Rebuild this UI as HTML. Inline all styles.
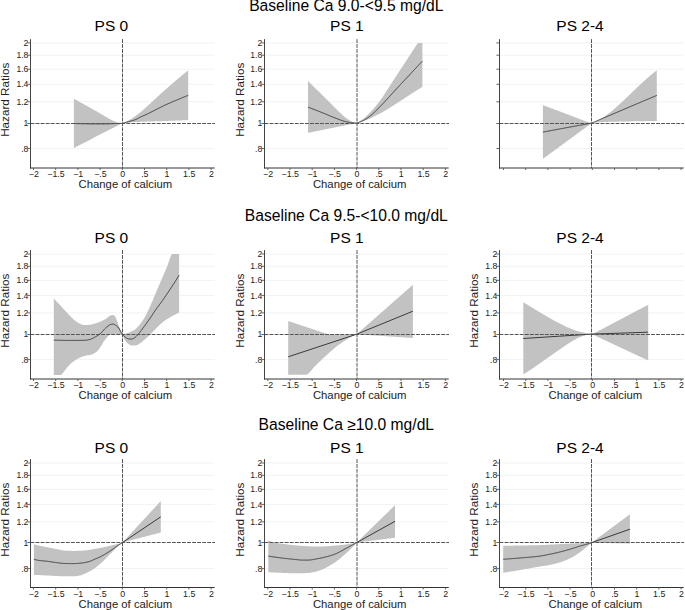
<!DOCTYPE html><html><head><meta charset="utf-8"><style>html,body{margin:0;padding:0;background:#fff;}svg{display:block;}text{font-family:"Liberation Sans",sans-serif;}</style></head><body>
<svg width="685" height="610" viewBox="0 0 685 610">
<rect width="685" height="610" fill="#fff"/>
<text x="346.3" y="10.7" font-size="15.65" text-anchor="middle" fill="#000">Baseline Ca 9.0-&lt;9.5 mg/dL</text>
<path d="M31,42.9H214.6M31,55.2H214.6M31,69.2H214.6M31,84.3H214.6M31,101.8H214.6M31,148.5H214.6" stroke="#eef3f4" stroke-width="1" fill="none"/>
<path d="M73.9,98.8 L74.36,99.05 L74.83,99.31 L75.29,99.56 L75.75,99.82 L76.22,100.07 L76.68,100.32 L77.15,100.58 L77.61,100.83 L78.07,101.09 L78.54,101.34 L79,101.6 L79.5,101.88 L80,102.15 L80.5,102.43 L81,102.71 L81.5,102.98 L82,103.26 L82.5,103.54 L83,103.82 L83.5,104.1 L84,104.37 L84.5,104.65 L85,104.93 L85.5,105.21 L86,105.49 L86.5,105.77 L87,106.04 L87.5,106.32 L88,106.6 L88.5,106.88 L89,107.15 L89.5,107.43 L90,107.7 L90.5,107.98 L91,108.25 L91.5,108.53 L92,108.8 L92.5,109.08 L93,109.36 L93.5,109.63 L94,109.91 L94.5,110.19 L95,110.47 L95.5,110.75 L96,111.03 L96.5,111.31 L97,111.6 L97.48,111.88 L97.96,112.16 L98.44,112.44 L98.92,112.72 L99.39,113.01 L99.87,113.29 L100.35,113.58 L100.83,113.87 L101.31,114.16 L101.79,114.45 L102.27,114.74 L102.75,115.02 L103.23,115.31 L103.71,115.6 L104.18,115.88 L104.66,116.17 L105.14,116.45 L105.62,116.72 L106.1,117 L106.6,117.29 L107.1,117.57 L107.6,117.86 L108.1,118.14 L108.6,118.43 L109.1,118.7 L109.6,118.98 L110.1,119.24 L110.6,119.5 L111.1,119.75 L111.6,120.01 L112.1,120.26 L112.6,120.51 L113.1,120.75 L113.6,120.99 L114.1,121.21 L114.6,121.41 L115.1,121.6 L115.6,121.78 L116.1,121.95 L116.6,122.11 L117.1,122.27 L117.6,122.42 L118.1,122.56 L118.6,122.68 L119.1,122.8 L119.6,122.9 L120.07,122.98 L120.53,123.06 L121,123.13 L121.47,123.2 L121.93,123.25 L122.4,123.3 L122.87,123.14 L123.34,122.97 L123.81,122.79 L124.28,122.6 L124.75,122.4 L125.22,122.2 L125.68,121.99 L126.15,121.77 L126.62,121.55 L127.09,121.32 L127.56,121.09 L128.03,120.85 L128.5,120.6 L129,120.33 L129.5,120.04 L130,119.74 L130.5,119.42 L131,119.1 L131.5,118.76 L132,118.42 L132.5,118.08 L133,117.72 L133.5,117.37 L134,117.01 L134.5,116.66 L135,116.3 L135.48,115.96 L135.97,115.61 L136.45,115.26 L136.93,114.9 L137.42,114.54 L137.9,114.18 L138.38,113.81 L138.87,113.44 L139.35,113.06 L139.83,112.68 L140.32,112.29 L140.8,111.9 L141.29,111.49 L141.78,111.08 L142.28,110.66 L142.77,110.23 L143.26,109.8 L143.75,109.36 L144.24,108.92 L144.73,108.48 L145.22,108.03 L145.72,107.59 L146.21,107.14 L146.7,106.7 L147.18,106.27 L147.67,105.83 L148.15,105.39 L148.63,104.95 L149.12,104.51 L149.6,104.07 L150.08,103.63 L150.57,103.18 L151.05,102.74 L151.53,102.29 L152.02,101.85 L152.5,101.4 L152.99,100.94 L153.48,100.49 L153.97,100.02 L154.47,99.56 L154.96,99.1 L155.45,98.63 L155.94,98.17 L156.43,97.71 L156.93,97.25 L157.42,96.8 L157.91,96.35 L158.4,95.9 L158.9,95.45 L159.39,95.01 L159.89,94.56 L160.39,94.11 L160.88,93.67 L161.38,93.22 L161.88,92.78 L162.37,92.34 L162.87,91.89 L163.37,91.45 L163.86,91.01 L164.36,90.57 L164.86,90.13 L165.35,89.69 L165.85,89.25 L166.35,88.81 L166.84,88.37 L167.34,87.93 L167.84,87.5 L168.33,87.06 L168.83,86.62 L169.33,86.19 L169.82,85.76 L170.32,85.32 L170.82,84.89 L171.31,84.46 L171.81,84.03 L172.31,83.6 L172.8,83.17 L173.3,82.74 L173.8,82.32 L174.29,81.89 L174.79,81.47 L175.29,81.04 L175.78,80.62 L176.28,80.2 L176.78,79.78 L177.27,79.36 L177.77,78.94 L178.27,78.52 L178.76,78.1 L179.26,77.69 L179.76,77.27 L180.25,76.86 L180.75,76.44 L181.25,76.03 L181.74,75.62 L182.24,75.21 L182.74,74.81 L183.23,74.4 L183.73,73.99 L184.23,73.59 L184.72,73.19 L185.22,72.78 L185.72,72.38 L186.21,71.98 L186.71,71.59 L187.21,71.19 L187.7,70.79 L188.2,70.4 L188.2,120.1 L187.71,120.12 L187.21,120.14 L186.72,120.16 L186.22,120.18 L185.73,120.2 L185.23,120.22 L184.74,120.24 L184.24,120.26 L183.75,120.28 L183.25,120.3 L182.76,120.32 L182.26,120.34 L181.77,120.36 L181.27,120.38 L180.78,120.4 L180.28,120.42 L179.79,120.44 L179.29,120.46 L178.8,120.48 L178.31,120.5 L177.81,120.52 L177.32,120.54 L176.82,120.55 L176.33,120.57 L175.83,120.59 L175.34,120.61 L174.84,120.63 L174.35,120.65 L173.85,120.67 L173.36,120.69 L172.86,120.71 L172.37,120.73 L171.87,120.75 L171.38,120.77 L170.88,120.79 L170.39,120.81 L169.89,120.82 L169.4,120.84 L168.91,120.86 L168.41,120.88 L167.92,120.9 L167.42,120.92 L166.93,120.94 L166.43,120.96 L165.94,120.98 L165.44,120.99 L164.95,121.01 L164.45,121.03 L163.96,121.05 L163.46,121.07 L162.97,121.09 L162.47,121.11 L161.98,121.13 L161.48,121.14 L160.99,121.16 L160.49,121.18 L160,121.2 L159.5,121.22 L159,121.24 L158.5,121.25 L158,121.27 L157.5,121.29 L157,121.31 L156.5,121.32 L156,121.34 L155.5,121.35 L155,121.37 L154.5,121.38 L154,121.4 L153.5,121.42 L153,121.43 L152.5,121.45 L152,121.46 L151.5,121.48 L151,121.49 L150.5,121.5 L150,121.52 L149.5,121.53 L149,121.55 L148.5,121.56 L148,121.58 L147.5,121.6 L147,121.61 L146.5,121.63 L146,121.64 L145.5,121.66 L145,121.68 L144.5,121.69 L144,121.71 L143.5,121.73 L143,121.74 L142.5,121.76 L142,121.78 L141.5,121.8 L141,121.82 L140.5,121.84 L140,121.86 L139.5,121.88 L139,121.9 L138.5,121.93 L138,121.95 L137.5,121.97 L137,122 L136.5,122.02 L136,122.05 L135.5,122.07 L135,122.1 L134.52,122.13 L134.03,122.16 L133.55,122.19 L133.06,122.22 L132.58,122.26 L132.09,122.3 L131.61,122.34 L131.12,122.38 L130.64,122.42 L130.15,122.46 L129.67,122.51 L129.18,122.56 L128.7,122.61 L128.22,122.65 L127.73,122.7 L127.25,122.76 L126.76,122.81 L126.28,122.86 L125.79,122.91 L125.31,122.97 L124.82,123.02 L124.34,123.08 L123.85,123.13 L123.37,123.19 L122.88,123.24 L122.4,123.3 L121.9,123.55 L121.4,123.8 L120.91,124.04 L120.41,124.29 L119.91,124.54 L119.41,124.79 L118.91,125.04 L118.42,125.28 L117.92,125.53 L117.42,125.78 L116.92,126.03 L116.42,126.28 L115.93,126.53 L115.43,126.78 L114.93,127.03 L114.43,127.28 L113.93,127.53 L113.44,127.78 L112.94,128.03 L112.44,128.28 L111.94,128.53 L111.44,128.78 L110.95,129.03 L110.45,129.28 L109.95,129.53 L109.45,129.78 L108.96,130.03 L108.46,130.29 L107.96,130.54 L107.46,130.79 L106.96,131.04 L106.47,131.29 L105.97,131.54 L105.47,131.8 L104.97,132.05 L104.47,132.3 L103.98,132.56 L103.48,132.81 L102.98,133.06 L102.48,133.31 L101.98,133.57 L101.49,133.82 L100.99,134.07 L100.49,134.33 L99.99,134.58 L99.49,134.84 L99,135.09 L98.5,135.35 L98,135.6 L97.51,135.85 L97.02,136.1 L96.52,136.36 L96.03,136.61 L95.54,136.86 L95.05,137.11 L94.56,137.36 L94.07,137.62 L93.57,137.87 L93.08,138.12 L92.59,138.38 L92.1,138.63 L91.61,138.88 L91.11,139.14 L90.62,139.39 L90.13,139.64 L89.64,139.9 L89.15,140.15 L88.66,140.41 L88.16,140.66 L87.67,140.91 L87.18,141.17 L86.69,141.42 L86.2,141.68 L85.7,141.93 L85.21,142.19 L84.72,142.44 L84.23,142.7 L83.74,142.96 L83.24,143.21 L82.75,143.47 L82.26,143.72 L81.77,143.98 L81.28,144.24 L80.79,144.49 L80.29,144.75 L79.8,145.01 L79.31,145.26 L78.82,145.52 L78.33,145.78 L77.83,146.04 L77.34,146.29 L76.85,146.55 L76.36,146.81 L75.87,147.07 L75.38,147.32 L74.88,147.58 L74.39,147.84 L73.9,148.1 Z" fill="#c2c2c2" stroke="none"/>
<path d="M73.9,123.5 L74.39,123.52 L74.88,123.54 L75.38,123.55 L75.87,123.57 L76.36,123.59 L76.85,123.6 L77.35,123.62 L77.84,123.63 L78.33,123.65 L78.82,123.66 L79.32,123.67 L79.81,123.69 L80.3,123.7 L80.79,123.71 L81.29,123.72 L81.78,123.73 L82.27,123.74 L82.76,123.75 L83.26,123.76 L83.75,123.77 L84.24,123.78 L84.73,123.79 L85.23,123.8 L85.72,123.81 L86.21,123.81 L86.7,123.82 L87.2,123.83 L87.69,123.83 L88.18,123.84 L88.67,123.85 L89.17,123.85 L89.66,123.86 L90.15,123.86 L90.64,123.86 L91.14,123.87 L91.63,123.87 L92.12,123.88 L92.61,123.88 L93.11,123.88 L93.6,123.88 L94.09,123.89 L94.58,123.89 L95.08,123.89 L95.57,123.89 L96.06,123.89 L96.55,123.9 L97.05,123.9 L97.54,123.9 L98.03,123.9 L98.52,123.9 L99.02,123.9 L99.51,123.9 L100,123.9 L100.5,123.9 L101,123.9 L101.49,123.9 L101.99,123.89 L102.49,123.89 L102.99,123.89 L103.48,123.88 L103.98,123.88 L104.48,123.87 L104.98,123.86 L105.48,123.86 L105.97,123.85 L106.47,123.84 L106.97,123.83 L107.47,123.82 L107.96,123.81 L108.46,123.8 L108.96,123.79 L109.46,123.78 L109.96,123.76 L110.45,123.75 L110.95,123.74 L111.45,123.72 L111.95,123.71 L112.44,123.69 L112.94,123.68 L113.44,123.66 L113.94,123.64 L114.44,123.63 L114.93,123.61 L115.43,123.59 L115.93,123.57 L116.43,123.55 L116.92,123.53 L117.42,123.51 L117.92,123.49 L118.42,123.47 L118.92,123.45 L119.41,123.43 L119.91,123.41 L120.41,123.39 L120.91,123.37 L121.4,123.35 L121.9,123.32 L122.4,123.3 L122.87,123.17 L123.34,123.04 L123.81,122.91 L124.28,122.78 L124.75,122.64 L125.22,122.51 L125.68,122.38 L126.15,122.25 L126.62,122.12 L127.09,121.99 L127.56,121.86 L128.03,121.73 L128.5,121.6 L129,121.46 L129.5,121.33 L130,121.21 L130.5,121.08 L131,120.96 L131.5,120.83 L132,120.7 L132.5,120.57 L133,120.43 L133.5,120.29 L134,120.14 L134.5,119.97 L135,119.8 L135.48,119.61 L135.97,119.41 L136.45,119.18 L136.93,118.94 L137.42,118.69 L137.9,118.43 L138.38,118.17 L138.87,117.9 L139.35,117.64 L139.83,117.38 L140.32,117.13 L140.8,116.9 L141.29,116.67 L141.78,116.45 L142.28,116.23 L142.77,116.02 L143.26,115.81 L143.75,115.6 L144.24,115.39 L144.73,115.18 L145.22,114.97 L145.72,114.75 L146.21,114.53 L146.7,114.3 L147.18,114.07 L147.67,113.84 L148.15,113.6 L148.63,113.36 L149.12,113.12 L149.6,112.88 L150.08,112.63 L150.57,112.38 L151.05,112.14 L151.53,111.89 L152.02,111.64 L152.5,111.4 L152.99,111.15 L153.48,110.9 L153.97,110.65 L154.47,110.4 L154.96,110.15 L155.45,109.9 L155.94,109.65 L156.43,109.4 L156.93,109.15 L157.42,108.9 L157.91,108.65 L158.4,108.4 L158.88,108.16 L159.37,107.91 L159.85,107.66 L160.33,107.42 L160.82,107.17 L161.3,106.93 L161.78,106.68 L162.27,106.44 L162.75,106.2 L163.23,105.96 L163.72,105.73 L164.2,105.5 L164.68,105.27 L165.17,105.05 L165.65,104.83 L166.13,104.61 L166.62,104.39 L167.1,104.17 L167.58,103.96 L168.07,103.74 L168.55,103.53 L169.03,103.32 L169.52,103.11 L170,102.9 L170.5,102.68 L171,102.47 L171.5,102.26 L172,102.05 L172.5,101.84 L173,101.63 L173.5,101.42 L174,101.22 L174.5,101.01 L175,100.8 L175.49,100.6 L175.98,100.39 L176.47,100.19 L176.96,99.98 L177.44,99.78 L177.93,99.57 L178.42,99.37 L178.91,99.16 L179.4,98.96 L179.89,98.76 L180.38,98.55 L180.87,98.35 L181.36,98.14 L181.84,97.94 L182.33,97.74 L182.82,97.53 L183.31,97.33 L183.8,97.13 L184.29,96.92 L184.78,96.72 L185.27,96.52 L185.76,96.31 L186.24,96.11 L186.73,95.91 L187.22,95.71 L187.71,95.5 L188.2,95.3" fill="none" stroke="#3a3a3a" stroke-width="1" stroke-linejoin="round"/>
<path d="M30.5,123.5H215" stroke="#555" stroke-width="1" stroke-dasharray="3.9,1.15" fill="none"/>
<path d="M122.5,39.15V168" stroke="#555" stroke-width="1" stroke-dasharray="3.9,1.0" fill="none"/>
<path d="M30.5,39.15V168.5" fill="none" stroke="#444" stroke-width="1"/>
<path d="M30,168H214.7" fill="none" stroke="#333" stroke-width="1"/>
<path d="M27.4,42.9H30M27.4,55.2H30M27.4,69.2H30M27.4,84.3H30M27.4,101.8H30M27.4,123.5H30M27.4,148.5H30" stroke="#666" stroke-width="1" fill="none"/>
<path d="M33.5,168V170M55.7,168V170M77.9,168V170M100.1,168V170M122.3,168V170M144.5,168V170M166.7,168V170M188.9,168V170M211.1,168V170" stroke="#555" stroke-width="0.9" fill="none"/>
<text x="111.4" y="31.2" font-size="15.5" text-anchor="middle" fill="#000">PS 0</text>
<text x="28.4" y="46" font-size="8.6" text-anchor="end" fill="#222">2</text>
<text x="28.4" y="58.3" font-size="8.6" text-anchor="end" fill="#222">1.8</text>
<text x="28.4" y="72.3" font-size="8.6" text-anchor="end" fill="#222">1.6</text>
<text x="28.4" y="87.4" font-size="8.6" text-anchor="end" fill="#222">1.4</text>
<text x="28.4" y="104.9" font-size="8.6" text-anchor="end" fill="#222">1.2</text>
<text x="28.4" y="126" font-size="8.6" text-anchor="end" fill="#222">1</text>
<text x="28.4" y="151.6" font-size="8.6" text-anchor="end" fill="#222">.8</text>
<text x="33.8" y="177.1" font-size="8.8" text-anchor="middle" fill="#222">&#8722;2</text>
<text x="56" y="177.1" font-size="8.8" text-anchor="middle" fill="#222">&#8722;1.5</text>
<text x="78.2" y="177.1" font-size="8.8" text-anchor="middle" fill="#222">&#8722;1</text>
<text x="100.4" y="177.1" font-size="8.8" text-anchor="middle" fill="#222">&#8722;.5</text>
<text x="122.6" y="177.1" font-size="8.8" text-anchor="middle" fill="#222">0</text>
<text x="144.8" y="177.1" font-size="8.8" text-anchor="middle" fill="#222">.5</text>
<text x="167" y="177.1" font-size="8.8" text-anchor="middle" fill="#222">1</text>
<text x="189.2" y="177.1" font-size="8.8" text-anchor="middle" fill="#222">1.5</text>
<text x="211.4" y="177.1" font-size="8.8" text-anchor="middle" fill="#222">2</text>
<text x="125.4" y="187.5" font-size="11.3" text-anchor="middle" fill="#222">Change of calcium</text>
<text transform="translate(8.9,99.8) rotate(-90)" font-size="11.7" text-anchor="middle" fill="#222">Hazard Ratios</text>
<path d="M265,42.9H448.6M265,55.2H448.6M265,69.2H448.6M265,84.3H448.6M265,101.8H448.6M265,148.5H448.6" stroke="#eef3f4" stroke-width="1" fill="none"/>
<path d="M308,81.1 L308.5,81.58 L309,82.07 L309.5,82.55 L310,83.04 L310.5,83.53 L311,84.01 L311.5,84.5 L312,84.99 L312.5,85.48 L313,85.96 L313.5,86.45 L314,86.94 L314.5,87.43 L315,87.92 L315.5,88.41 L316,88.9 L316.5,89.39 L317,89.88 L317.5,90.37 L318,90.86 L318.5,91.36 L319,91.85 L319.5,92.34 L320,92.83 L320.5,93.33 L321,93.82 L321.5,94.32 L322,94.81 L322.5,95.3 L323,95.8 L323.5,96.3 L324,96.8 L324.5,97.3 L325,97.8 L325.5,98.3 L326,98.81 L326.5,99.31 L327,99.82 L327.5,100.33 L328,100.84 L328.5,101.34 L329,101.85 L329.5,102.35 L330,102.86 L330.5,103.36 L331,103.86 L331.5,104.36 L332,104.86 L332.5,105.35 L333,105.85 L333.5,106.33 L334,106.82 L334.5,107.3 L335,107.78 L335.49,108.26 L335.99,108.74 L336.48,109.23 L336.98,109.72 L337.47,110.21 L337.97,110.7 L338.47,111.19 L338.96,111.68 L339.46,112.16 L339.95,112.64 L340.45,113.11 L340.94,113.58 L341.44,114.05 L341.93,114.51 L342.43,114.95 L342.93,115.39 L343.42,115.82 L343.92,116.24 L344.41,116.65 L344.91,117.05 L345.4,117.43 L345.9,117.8 L346.37,118.14 L346.84,118.48 L347.31,118.82 L347.78,119.15 L348.25,119.47 L348.72,119.79 L349.18,120.09 L349.65,120.38 L350.12,120.66 L350.59,120.92 L351.06,121.17 L351.53,121.39 L352,121.6 L352.47,121.79 L352.94,121.98 L353.41,122.16 L353.88,122.33 L354.35,122.48 L354.82,122.63 L355.29,122.77 L355.76,122.89 L356.23,123 L356.7,123.1 L357.14,122.81 L357.59,122.53 L358.03,122.24 L358.47,121.96 L358.91,121.67 L359.36,121.39 L359.8,121.1 L360.29,120.79 L360.77,120.49 L361.26,120.19 L361.74,119.89 L362.23,119.58 L362.71,119.25 L363.2,118.9 L363.68,118.53 L364.16,118.14 L364.65,117.74 L365.13,117.33 L365.61,116.9 L366.09,116.46 L366.58,116.02 L367.06,115.55 L367.54,115.09 L368.02,114.61 L368.51,114.12 L368.99,113.63 L369.47,113.13 L369.95,112.63 L370.44,112.12 L370.92,111.61 L371.4,111.1 L371.88,110.58 L372.36,110.06 L372.85,109.52 L373.33,108.98 L373.81,108.43 L374.29,107.87 L374.78,107.3 L375.26,106.72 L375.74,106.14 L376.22,105.55 L376.71,104.95 L377.19,104.34 L377.67,103.73 L378.15,103.11 L378.64,102.48 L379.12,101.84 L379.6,101.2 L380.08,100.55 L380.56,99.89 L381.05,99.22 L381.53,98.54 L382.01,97.85 L382.49,97.15 L382.98,96.44 L383.46,95.73 L383.94,95 L384.42,94.27 L384.91,93.53 L385.39,92.77 L385.87,92.02 L386.35,91.25 L386.84,90.47 L387.32,89.69 L387.8,88.9 L417.8,42.9 L422.4,42.9 L422.4,86.9 L421.9,87.2 L421.4,87.49 L420.91,87.79 L420.41,88.09 L419.91,88.4 L419.41,88.7 L418.92,89.01 L418.42,89.31 L417.92,89.62 L417.42,89.93 L416.92,90.24 L416.43,90.55 L415.93,90.87 L415.43,91.18 L414.93,91.5 L414.44,91.81 L413.94,92.13 L413.44,92.45 L412.94,92.77 L412.45,93.09 L411.95,93.41 L411.45,93.73 L410.95,94.05 L410.45,94.37 L409.96,94.7 L409.46,95.02 L408.96,95.35 L408.46,95.67 L407.97,96 L407.47,96.32 L406.97,96.65 L406.47,96.98 L405.97,97.3 L405.48,97.63 L404.98,97.96 L404.48,98.28 L403.98,98.61 L403.49,98.94 L402.99,99.27 L402.49,99.59 L401.99,99.92 L401.5,100.25 L401,100.57 L400.5,100.9 L400,101.22 L399.5,101.55 L399.01,101.88 L398.51,102.2 L398.01,102.52 L397.51,102.85 L397.02,103.17 L396.52,103.49 L396.02,103.82 L395.52,104.14 L395.02,104.46 L394.53,104.78 L394.03,105.09 L393.53,105.41 L393.03,105.73 L392.54,106.04 L392.04,106.36 L391.54,106.67 L391.04,106.98 L390.55,107.3 L390.05,107.61 L389.55,107.91 L389.05,108.22 L388.55,108.53 L388.06,108.83 L387.56,109.13 L387.06,109.44 L386.56,109.74 L386.07,110.03 L385.57,110.33 L385.07,110.63 L384.57,110.92 L384.07,111.21 L383.58,111.5 L383.08,111.79 L382.58,112.07 L382.08,112.36 L381.59,112.64 L381.09,112.92 L380.59,113.2 L380.09,113.47 L379.6,113.74 L379.1,114.01 L378.6,114.28 L378.1,114.55 L377.6,114.81 L377.11,115.07 L376.61,115.33 L376.11,115.59 L375.61,115.84 L375.12,116.09 L374.62,116.34 L374.12,116.59 L373.62,116.83 L373.12,117.07 L372.63,117.31 L372.13,117.54 L371.63,117.77 L371.13,118 L370.64,118.23 L370.14,118.45 L369.64,118.67 L369.14,118.88 L368.65,119.09 L368.15,119.3 L367.65,119.51 L367.15,119.71 L366.65,119.91 L366.16,120.11 L365.66,120.3 L365.16,120.49 L364.66,120.67 L364.17,120.85 L363.67,121.03 L363.17,121.2 L362.67,121.37 L362.18,121.54 L361.68,121.7 L361.18,121.86 L360.68,122.01 L360.18,122.17 L359.69,122.31 L359.19,122.45 L358.69,122.59 L358.19,122.73 L357.7,122.85 L357.2,122.98 L356.7,123.1 L356.21,123.2 L355.71,123.29 L355.22,123.39 L354.72,123.49 L354.23,123.58 L353.74,123.68 L353.24,123.78 L352.75,123.87 L352.25,123.97 L351.76,124.07 L351.27,124.17 L350.77,124.26 L350.28,124.36 L349.78,124.46 L349.29,124.55 L348.8,124.65 L348.3,124.75 L347.81,124.85 L347.31,124.95 L346.82,125.04 L346.33,125.14 L345.83,125.24 L345.34,125.34 L344.84,125.43 L344.35,125.53 L343.86,125.63 L343.36,125.73 L342.87,125.83 L342.37,125.92 L341.88,126.02 L341.39,126.12 L340.89,126.22 L340.4,126.32 L339.9,126.42 L339.41,126.52 L338.92,126.61 L338.42,126.71 L337.93,126.81 L337.43,126.91 L336.94,127.01 L336.45,127.11 L335.95,127.21 L335.46,127.31 L334.96,127.4 L334.47,127.5 L333.98,127.6 L333.48,127.7 L332.99,127.8 L332.49,127.9 L332,128 L331.5,128.1 L331,128.2 L330.5,128.3 L330,128.4 L329.5,128.5 L329,128.6 L328.5,128.71 L328,128.81 L327.5,128.91 L327,129.01 L326.5,129.11 L326,129.21 L325.5,129.31 L325,129.41 L324.5,129.52 L324,129.62 L323.5,129.72 L323,129.82 L322.5,129.92 L322,130.02 L321.5,130.13 L321,130.23 L320.5,130.33 L320,130.43 L319.5,130.53 L319,130.64 L318.5,130.74 L318,130.84 L317.5,130.94 L317,131.05 L316.5,131.15 L316,131.25 L315.5,131.35 L315,131.46 L314.5,131.56 L314,131.66 L313.5,131.76 L313,131.87 L312.5,131.97 L312,132.07 L311.5,132.18 L311,132.28 L310.5,132.38 L310,132.49 L309.5,132.59 L309,132.69 L308.5,132.8 L308,132.9 Z" fill="#c2c2c2" stroke="none"/>
<path d="M308,107.1 L308.5,107.29 L309,107.49 L309.5,107.68 L310,107.87 L310.5,108.07 L311,108.26 L311.5,108.45 L312,108.65 L312.5,108.84 L313,109.04 L313.5,109.23 L314,109.43 L314.5,109.63 L315,109.82 L315.5,110.02 L316,110.22 L316.5,110.41 L317,110.61 L317.5,110.81 L318,111.01 L318.5,111.2 L319,111.4 L319.5,111.6 L320,111.8 L320.5,112 L321,112.2 L321.5,112.4 L322,112.6 L322.5,112.8 L323,113 L323.5,113.2 L324,113.4 L324.5,113.61 L325,113.82 L325.5,114.02 L326,114.23 L326.5,114.44 L327,114.65 L327.5,114.86 L328,115.07 L328.5,115.28 L329,115.49 L329.5,115.7 L330,115.9 L330.5,116.11 L331,116.32 L331.5,116.52 L332,116.72 L332.5,116.92 L333,117.12 L333.5,117.32 L334,117.51 L334.5,117.7 L335,117.89 L335.49,118.08 L335.99,118.27 L336.48,118.47 L336.98,118.66 L337.47,118.86 L337.97,119.05 L338.47,119.24 L338.96,119.44 L339.46,119.63 L339.95,119.82 L340.45,120 L340.94,120.18 L341.44,120.36 L341.93,120.54 L342.43,120.7 L342.93,120.87 L343.42,121.02 L343.92,121.17 L344.41,121.32 L344.91,121.45 L345.4,121.58 L345.9,121.7 L346.37,121.81 L346.84,121.91 L347.31,122.02 L347.78,122.12 L348.25,122.22 L348.72,122.31 L349.18,122.4 L349.65,122.48 L350.12,122.56 L350.59,122.63 L351.06,122.7 L351.53,122.75 L352,122.8 L352.47,122.84 L352.94,122.88 L353.41,122.92 L353.88,122.96 L354.35,123 L354.82,123.03 L355.29,123.05 L355.76,123.07 L356.23,123.09 L356.7,123.1 L357.2,122.95 L357.7,122.8 L358.2,122.63 L358.7,122.46 L359.2,122.27 L359.7,122.08 L360.2,121.87 L360.7,121.66 L361.2,121.44 L361.7,121.22 L362.2,120.98 L362.7,120.75 L363.2,120.5 L363.68,120.25 L364.16,120 L364.65,119.73 L365.13,119.45 L365.61,119.15 L366.09,118.85 L366.58,118.54 L367.06,118.22 L367.54,117.89 L368.02,117.55 L368.51,117.21 L368.99,116.85 L369.47,116.49 L369.95,116.13 L370.44,115.76 L370.92,115.38 L371.4,115 L371.88,114.61 L372.36,114.2 L372.85,113.77 L373.33,113.34 L373.81,112.88 L374.29,112.42 L374.78,111.95 L375.26,111.47 L375.74,110.98 L376.22,110.49 L376.71,109.99 L377.19,109.49 L377.67,108.99 L378.15,108.49 L378.64,107.99 L379.12,107.49 L379.6,107 L380.1,106.49 L380.6,105.98 L381.09,105.47 L381.59,104.96 L382.09,104.44 L382.59,103.92 L383.08,103.4 L383.58,102.88 L384.08,102.35 L384.58,101.82 L385.07,101.29 L385.57,100.76 L386.07,100.23 L386.57,99.7 L387.07,99.16 L387.56,98.62 L388.06,98.09 L388.56,97.55 L389.06,97.01 L389.55,96.47 L390.05,95.92 L390.55,95.38 L391.05,94.84 L391.54,94.29 L392.04,93.75 L392.54,93.21 L393.04,92.66 L393.53,92.12 L394.03,91.57 L394.53,91.03 L395.03,90.48 L395.53,89.94 L396.02,89.39 L396.52,88.85 L397.02,88.31 L397.52,87.77 L398.01,87.23 L398.51,86.69 L399.01,86.15 L399.51,85.61 L400,85.07 L400.5,84.53 L401,84 L401.5,83.47 L402,82.93 L402.49,82.4 L402.99,81.87 L403.49,81.33 L403.99,80.8 L404.48,80.27 L404.98,79.73 L405.48,79.2 L405.98,78.67 L406.47,78.13 L406.97,77.6 L407.47,77.07 L407.97,76.53 L408.47,76 L408.96,75.47 L409.46,74.93 L409.96,74.4 L410.46,73.87 L410.95,73.34 L411.45,72.8 L411.95,72.27 L412.45,71.74 L412.94,71.21 L413.44,70.67 L413.94,70.14 L414.44,69.61 L414.93,69.08 L415.43,68.54 L415.93,68.01 L416.43,67.48 L416.93,66.95 L417.42,66.42 L417.92,65.88 L418.42,65.35 L418.92,64.82 L419.41,64.29 L419.91,63.76 L420.41,63.23 L420.91,62.69 L421.4,62.16 L421.9,61.63 L422.4,61.1" fill="none" stroke="#3a3a3a" stroke-width="1" stroke-linejoin="round"/>
<path d="M264.5,123.5H449" stroke="#555" stroke-width="1" stroke-dasharray="3.9,1.15" fill="none"/>
<path d="M357,39.15V168" stroke="#555" stroke-width="1" stroke-dasharray="3.9,1.0" fill="none"/>
<path d="M264.5,39.15V168.5" fill="none" stroke="#444" stroke-width="1"/>
<path d="M264,168H448.7" fill="none" stroke="#333" stroke-width="1"/>
<path d="M261.4,42.9H264M261.4,55.2H264M261.4,69.2H264M261.4,84.3H264M261.4,101.8H264M261.4,123.5H264M261.4,148.5H264" stroke="#666" stroke-width="1" fill="none"/>
<path d="M267.8,168V170M290,168V170M312.2,168V170M334.4,168V170M356.6,168V170M378.8,168V170M401,168V170M423.2,168V170M445.4,168V170" stroke="#555" stroke-width="0.9" fill="none"/>
<text x="346.9" y="31.2" font-size="15.5" text-anchor="middle" fill="#000">PS 1</text>
<text x="262.2" y="46" font-size="8.6" text-anchor="end" fill="#222">2</text>
<text x="262.2" y="58.3" font-size="8.6" text-anchor="end" fill="#222">1.8</text>
<text x="262.2" y="72.3" font-size="8.6" text-anchor="end" fill="#222">1.6</text>
<text x="262.2" y="87.4" font-size="8.6" text-anchor="end" fill="#222">1.4</text>
<text x="262.2" y="104.9" font-size="8.6" text-anchor="end" fill="#222">1.2</text>
<text x="262.2" y="126" font-size="8.6" text-anchor="end" fill="#222">1</text>
<text x="262.2" y="151.6" font-size="8.6" text-anchor="end" fill="#222">.8</text>
<text x="268.1" y="177.1" font-size="8.8" text-anchor="middle" fill="#222">&#8722;2</text>
<text x="290.3" y="177.1" font-size="8.8" text-anchor="middle" fill="#222">&#8722;1.5</text>
<text x="312.5" y="177.1" font-size="8.8" text-anchor="middle" fill="#222">&#8722;1</text>
<text x="334.7" y="177.1" font-size="8.8" text-anchor="middle" fill="#222">&#8722;.5</text>
<text x="356.9" y="177.1" font-size="8.8" text-anchor="middle" fill="#222">0</text>
<text x="379.1" y="177.1" font-size="8.8" text-anchor="middle" fill="#222">.5</text>
<text x="401.3" y="177.1" font-size="8.8" text-anchor="middle" fill="#222">1</text>
<text x="423.5" y="177.1" font-size="8.8" text-anchor="middle" fill="#222">1.5</text>
<text x="445.7" y="177.1" font-size="8.8" text-anchor="middle" fill="#222">2</text>
<text x="359.7" y="187.5" font-size="11.3" text-anchor="middle" fill="#222">Change of calcium</text>
<text transform="translate(243.5,99.8) rotate(-90)" font-size="11.7" text-anchor="middle" fill="#222">Hazard Ratios</text>
<path d="M500,42.9H683.6M500,55.2H683.6M500,69.2H683.6M500,84.3H683.6M500,101.8H683.6M500,148.5H683.6" stroke="#eef3f4" stroke-width="1" fill="none"/>
<path d="M542.9,105.1 L543.39,105.29 L543.89,105.47 L544.38,105.66 L544.88,105.84 L545.37,106.03 L545.86,106.21 L546.36,106.4 L546.85,106.58 L547.34,106.77 L547.84,106.95 L548.33,107.14 L548.83,107.32 L549.32,107.51 L549.81,107.69 L550.31,107.88 L550.8,108.07 L551.3,108.25 L551.79,108.44 L552.28,108.62 L552.78,108.81 L553.27,108.99 L553.76,109.18 L554.26,109.37 L554.75,109.55 L555.25,109.74 L555.74,109.92 L556.23,110.11 L556.73,110.3 L557.22,110.48 L557.72,110.67 L558.21,110.85 L558.7,111.04 L559.2,111.23 L559.69,111.41 L560.18,111.6 L560.68,111.79 L561.17,111.97 L561.67,112.16 L562.16,112.34 L562.65,112.53 L563.15,112.72 L563.64,112.9 L564.14,113.09 L564.63,113.28 L565.12,113.46 L565.62,113.65 L566.11,113.84 L566.6,114.02 L567.1,114.21 L567.59,114.4 L568.09,114.58 L568.58,114.77 L569.07,114.96 L569.57,115.14 L570.06,115.33 L570.56,115.52 L571.05,115.7 L571.54,115.89 L572.04,116.08 L572.53,116.27 L573.02,116.45 L573.52,116.64 L574.01,116.83 L574.51,117.01 L575,117.2 L575.5,117.39 L576,117.58 L576.5,117.78 L577,117.97 L577.5,118.17 L578,118.36 L578.5,118.56 L579,118.76 L579.5,118.95 L580,119.15 L580.5,119.34 L581,119.53 L581.5,119.73 L582,119.92 L582.5,120.1 L583,120.29 L583.5,120.47 L584,120.65 L584.5,120.83 L585,121 L585.48,121.16 L585.96,121.32 L586.44,121.48 L586.91,121.64 L587.39,121.79 L587.87,121.94 L588.35,122.1 L588.83,122.24 L589.31,122.39 L589.79,122.54 L590.26,122.68 L590.74,122.82 L591.22,122.96 L591.7,123.1 L592.19,122.92 L592.68,122.74 L593.16,122.55 L593.65,122.35 L594.14,122.15 L594.63,121.94 L595.12,121.73 L595.61,121.51 L596.09,121.28 L596.58,121.05 L597.07,120.81 L597.56,120.57 L598.05,120.33 L598.54,120.08 L599.02,119.82 L599.51,119.56 L600,119.3 L600.49,119.03 L600.99,118.74 L601.48,118.45 L601.98,118.15 L602.47,117.85 L602.96,117.53 L603.46,117.21 L603.95,116.88 L604.45,116.54 L604.94,116.2 L605.44,115.86 L605.93,115.51 L606.42,115.15 L606.92,114.79 L607.41,114.43 L607.91,114.07 L608.4,113.7 L608.88,113.34 L609.37,112.97 L609.85,112.59 L610.33,112.21 L610.82,111.82 L611.3,111.43 L611.78,111.03 L612.27,110.63 L612.75,110.22 L613.23,109.81 L613.72,109.39 L614.2,108.97 L614.68,108.55 L615.17,108.13 L615.65,107.7 L616.13,107.27 L616.62,106.84 L617.1,106.41 L617.58,105.97 L618.07,105.54 L618.55,105.1 L619.03,104.67 L619.52,104.23 L620,103.8 L620.49,103.36 L620.98,102.92 L621.46,102.47 L621.95,102.02 L622.44,101.56 L622.92,101.11 L623.41,100.65 L623.9,100.19 L624.39,99.72 L624.88,99.26 L625.36,98.79 L625.85,98.32 L626.34,97.85 L626.83,97.38 L627.31,96.91 L627.8,96.44 L628.29,95.97 L628.78,95.5 L629.26,95.03 L629.75,94.56 L630.24,94.1 L630.73,93.63 L631.21,93.16 L631.7,92.7 L632.19,92.24 L632.68,91.77 L633.16,91.3 L633.65,90.84 L634.14,90.37 L634.62,89.9 L635.11,89.43 L635.6,88.96 L636.09,88.49 L636.58,88.02 L637.06,87.55 L637.55,87.08 L638.04,86.61 L638.52,86.14 L639.01,85.68 L639.5,85.21 L639.99,84.75 L640.48,84.29 L640.96,83.84 L641.45,83.38 L641.94,82.93 L642.42,82.48 L642.91,82.04 L643.4,81.6 L643.9,81.16 L644.39,80.71 L644.89,80.27 L645.39,79.83 L645.88,79.39 L646.38,78.95 L646.87,78.52 L647.37,78.09 L647.87,77.65 L648.36,77.22 L648.86,76.8 L649.36,76.37 L649.85,75.94 L650.35,75.52 L650.84,75.1 L651.34,74.68 L651.84,74.26 L652.33,73.85 L652.83,73.44 L653.33,73.02 L653.82,72.61 L654.32,72.21 L654.81,71.8 L655.31,71.4 L655.81,71 L656.3,70.6 L656.8,70.2 L656.8,121 L656.3,121 L655.81,121.01 L655.31,121.01 L654.81,121.02 L654.31,121.02 L653.82,121.03 L653.32,121.03 L652.82,121.03 L652.32,121.04 L651.83,121.04 L651.33,121.05 L650.83,121.06 L650.34,121.06 L649.84,121.07 L649.34,121.07 L648.84,121.08 L648.35,121.09 L647.85,121.09 L647.35,121.1 L646.85,121.1 L646.36,121.11 L645.86,121.12 L645.36,121.12 L644.86,121.13 L644.37,121.14 L643.87,121.15 L643.37,121.15 L642.88,121.16 L642.38,121.17 L641.88,121.18 L641.38,121.18 L640.89,121.19 L640.39,121.2 L639.89,121.21 L639.39,121.22 L638.9,121.23 L638.4,121.23 L637.9,121.24 L637.41,121.25 L636.91,121.26 L636.41,121.27 L635.91,121.28 L635.42,121.29 L634.92,121.3 L634.42,121.31 L633.92,121.31 L633.43,121.32 L632.93,121.33 L632.43,121.34 L631.94,121.35 L631.44,121.36 L630.94,121.37 L630.44,121.38 L629.95,121.39 L629.45,121.4 L628.95,121.41 L628.45,121.42 L627.96,121.43 L627.46,121.44 L626.96,121.45 L626.46,121.46 L625.97,121.47 L625.47,121.48 L624.97,121.49 L624.48,121.5 L623.98,121.51 L623.48,121.53 L622.98,121.54 L622.49,121.55 L621.99,121.56 L621.49,121.57 L620.99,121.58 L620.5,121.59 L620,121.6 L619.5,121.61 L619,121.62 L618.5,121.63 L618,121.64 L617.5,121.65 L617,121.66 L616.5,121.67 L616,121.69 L615.5,121.7 L615,121.71 L614.5,121.72 L614,121.73 L613.5,121.74 L613,121.75 L612.5,121.76 L612,121.78 L611.5,121.79 L611,121.8 L610.5,121.81 L610,121.83 L609.5,121.84 L609,121.85 L608.5,121.87 L608,121.88 L607.5,121.9 L607,121.91 L606.5,121.93 L606,121.95 L605.5,121.97 L605,121.98 L604.5,122 L604,122.02 L603.5,122.04 L603,122.06 L602.5,122.08 L602,122.1 L601.5,122.13 L601,122.15 L600.5,122.17 L600,122.2 L599.51,122.23 L599.02,122.26 L598.54,122.3 L598.05,122.34 L597.56,122.38 L597.07,122.43 L596.58,122.48 L596.09,122.54 L595.61,122.6 L595.12,122.65 L594.63,122.72 L594.14,122.78 L593.65,122.84 L593.16,122.91 L592.68,122.97 L592.19,123.04 L591.7,123.1 L591.21,123.46 L590.71,123.82 L590.22,124.18 L589.72,124.55 L589.23,124.91 L588.74,125.27 L588.24,125.63 L587.75,125.99 L587.25,126.35 L586.76,126.72 L586.27,127.08 L585.77,127.44 L585.28,127.8 L584.78,128.16 L584.29,128.53 L583.8,128.89 L583.3,129.25 L582.81,129.61 L582.31,129.97 L581.82,130.34 L581.33,130.7 L580.83,131.06 L580.34,131.42 L579.84,131.78 L579.35,132.14 L578.86,132.51 L578.36,132.87 L577.87,133.23 L577.37,133.59 L576.88,133.96 L576.39,134.32 L575.89,134.68 L575.4,135.04 L574.9,135.4 L574.41,135.77 L573.92,136.13 L573.42,136.49 L572.93,136.85 L572.43,137.21 L571.94,137.58 L571.45,137.94 L570.95,138.3 L570.46,138.66 L569.96,139.03 L569.47,139.39 L568.98,139.75 L568.48,140.11 L567.99,140.48 L567.49,140.84 L567,141.2 L566.51,141.56 L566.02,141.92 L565.52,142.28 L565.03,142.64 L564.54,143 L564.05,143.37 L563.56,143.73 L563.07,144.09 L562.57,144.45 L562.08,144.81 L561.59,145.17 L561.1,145.53 L560.61,145.89 L560.11,146.25 L559.62,146.61 L559.13,146.98 L558.64,147.34 L558.15,147.7 L557.66,148.06 L557.16,148.42 L556.67,148.78 L556.18,149.14 L555.69,149.5 L555.2,149.86 L554.7,150.23 L554.21,150.59 L553.72,150.95 L553.23,151.31 L552.74,151.67 L552.24,152.03 L551.75,152.39 L551.26,152.75 L550.77,153.12 L550.28,153.48 L549.79,153.84 L549.29,154.2 L548.8,154.56 L548.31,154.92 L547.82,155.28 L547.33,155.65 L546.83,156.01 L546.34,156.37 L545.85,156.73 L545.36,157.09 L544.87,157.45 L544.38,157.82 L543.88,158.18 L543.39,158.54 L542.9,158.9 Z" fill="#c2c2c2" stroke="none"/>
<path d="M542.9,132.1 L543.39,132.01 L543.88,131.91 L544.38,131.82 L544.87,131.73 L545.36,131.64 L545.85,131.54 L546.34,131.45 L546.83,131.36 L547.33,131.27 L547.82,131.17 L548.31,131.08 L548.8,130.99 L549.29,130.9 L549.79,130.8 L550.28,130.71 L550.77,130.62 L551.26,130.53 L551.75,130.43 L552.24,130.34 L552.74,130.25 L553.23,130.16 L553.72,130.07 L554.21,129.97 L554.7,129.88 L555.2,129.79 L555.69,129.7 L556.18,129.61 L556.67,129.52 L557.16,129.42 L557.66,129.33 L558.15,129.24 L558.64,129.15 L559.13,129.06 L559.62,128.97 L560.11,128.87 L560.61,128.78 L561.1,128.69 L561.59,128.6 L562.08,128.51 L562.57,128.42 L563.07,128.33 L563.56,128.24 L564.05,128.15 L564.54,128.05 L565.03,127.96 L565.52,127.87 L566.02,127.78 L566.51,127.69 L567,127.6 L567.49,127.51 L567.99,127.42 L568.48,127.33 L568.98,127.24 L569.47,127.14 L569.96,127.05 L570.46,126.96 L570.95,126.87 L571.45,126.78 L571.94,126.69 L572.43,126.6 L572.93,126.51 L573.42,126.42 L573.92,126.33 L574.41,126.24 L574.9,126.15 L575.4,126.06 L575.89,125.97 L576.39,125.88 L576.88,125.79 L577.37,125.7 L577.87,125.61 L578.36,125.52 L578.86,125.43 L579.35,125.34 L579.84,125.25 L580.34,125.16 L580.83,125.07 L581.33,124.98 L581.82,124.89 L582.31,124.8 L582.81,124.71 L583.3,124.62 L583.8,124.53 L584.29,124.44 L584.78,124.35 L585.28,124.26 L585.77,124.17 L586.27,124.08 L586.76,123.99 L587.25,123.9 L587.75,123.81 L588.24,123.72 L588.74,123.63 L589.23,123.54 L589.72,123.46 L590.22,123.37 L590.71,123.28 L591.21,123.19 L591.7,123.1 L592.2,122.89 L592.69,122.67 L593.19,122.46 L593.69,122.25 L594.18,122.03 L594.68,121.82 L595.18,121.61 L595.67,121.4 L596.17,121.18 L596.66,120.97 L597.16,120.76 L597.66,120.55 L598.15,120.33 L598.65,120.12 L599.15,119.91 L599.64,119.69 L600.14,119.48 L600.64,119.27 L601.13,119.06 L601.63,118.84 L602.13,118.63 L602.62,118.42 L603.12,118.21 L603.62,117.99 L604.11,117.78 L604.61,117.57 L605.11,117.36 L605.6,117.14 L606.1,116.93 L606.59,116.72 L607.09,116.51 L607.59,116.3 L608.08,116.08 L608.58,115.87 L609.08,115.66 L609.57,115.45 L610.07,115.23 L610.57,115.02 L611.06,114.81 L611.56,114.6 L612.06,114.39 L612.55,114.17 L613.05,113.96 L613.55,113.75 L614.04,113.54 L614.54,113.33 L615.04,113.12 L615.53,112.9 L616.03,112.69 L616.52,112.48 L617.02,112.27 L617.52,112.06 L618.01,111.85 L618.51,111.63 L619.01,111.42 L619.5,111.21 L620,111 L620.5,110.79 L620.99,110.58 L621.49,110.36 L621.99,110.15 L622.49,109.94 L622.98,109.73 L623.48,109.52 L623.98,109.31 L624.48,109.1 L624.97,108.88 L625.47,108.67 L625.97,108.46 L626.46,108.25 L626.96,108.04 L627.46,107.83 L627.96,107.61 L628.45,107.4 L628.95,107.19 L629.45,106.98 L629.95,106.77 L630.44,106.56 L630.94,106.35 L631.44,106.14 L631.94,105.92 L632.43,105.71 L632.93,105.5 L633.43,105.29 L633.92,105.08 L634.42,104.87 L634.92,104.66 L635.42,104.45 L635.91,104.24 L636.41,104.03 L636.91,103.81 L637.41,103.6 L637.9,103.39 L638.4,103.18 L638.9,102.97 L639.39,102.76 L639.89,102.55 L640.39,102.34 L640.89,102.13 L641.38,101.92 L641.88,101.71 L642.38,101.5 L642.88,101.29 L643.37,101.07 L643.87,100.86 L644.37,100.65 L644.86,100.44 L645.36,100.23 L645.86,100.02 L646.36,99.81 L646.85,99.6 L647.35,99.39 L647.85,99.18 L648.35,98.97 L648.84,98.76 L649.34,98.55 L649.84,98.34 L650.34,98.13 L650.83,97.92 L651.33,97.71 L651.83,97.5 L652.32,97.29 L652.82,97.08 L653.32,96.87 L653.82,96.66 L654.31,96.45 L654.81,96.24 L655.31,96.03 L655.81,95.82 L656.3,95.61 L656.8,95.4" fill="none" stroke="#3a3a3a" stroke-width="1" stroke-linejoin="round"/>
<path d="M499.5,123.5H684" stroke="#555" stroke-width="1" stroke-dasharray="3.9,1.15" fill="none"/>
<path d="M591.5,39.15V168" stroke="#555" stroke-width="1" stroke-dasharray="3.9,1.0" fill="none"/>
<path d="M499.5,39.15V168.5" fill="none" stroke="#444" stroke-width="1"/>
<path d="M499,168H683.7" fill="none" stroke="#333" stroke-width="1"/>
<path d="M496.4,42.9H499M496.4,55.2H499M496.4,69.2H499M496.4,84.3H499M496.4,101.8H499M496.4,123.5H499M496.4,148.5H499" stroke="#666" stroke-width="1" fill="none"/>
<path d="M503.5,168V170M525.7,168V170M547.9,168V170M570.1,168V170M592.3,168V170M614.5,168V170M636.7,168V170M658.9,168V170M681.1,168V170" stroke="#555" stroke-width="0.9" fill="none"/>
<text x="580" y="31.2" font-size="15.5" text-anchor="middle" fill="#000">PS 2-4</text>
<text x="346.3" y="220.8" font-size="15.65" text-anchor="middle" fill="#000">Baseline Ca 9.5-&lt;10.0 mg/dL</text>
<path d="M31,254H214.6M31,266.3H214.6M31,280.3H214.6M31,295.4H214.6M31,312.9H214.6M31,359.6H214.6" stroke="#eef3f4" stroke-width="1" fill="none"/>
<path d="M53.8,298.6 L54.27,299.08 L54.73,299.57 L55.2,300.05 L55.67,300.53 L56.13,301.02 L56.6,301.5 L57.06,301.97 L57.51,302.44 L57.97,302.91 L58.43,303.37 L58.89,303.84 L59.34,304.32 L59.8,304.8 L60.27,305.3 L60.74,305.81 L61.21,306.33 L61.69,306.85 L62.16,307.37 L62.63,307.88 L63.1,308.4 L63.57,308.91 L64.04,309.43 L64.51,309.94 L64.99,310.46 L65.46,310.97 L65.93,311.49 L66.4,312 L66.87,312.52 L67.34,313.04 L67.81,313.56 L68.29,314.08 L68.76,314.59 L69.23,315.1 L69.7,315.6 L70.17,316.09 L70.64,316.58 L71.11,317.07 L71.59,317.55 L72.06,318.02 L72.53,318.47 L73,318.9 L73.46,319.31 L73.91,319.7 L74.37,320.09 L74.83,320.47 L75.29,320.83 L75.74,321.17 L76.2,321.5 L76.67,321.82 L77.14,322.14 L77.61,322.44 L78.09,322.73 L78.56,323.01 L79.03,323.26 L79.5,323.5 L79.97,323.73 L80.44,323.96 L80.91,324.18 L81.39,324.39 L81.86,324.56 L82.33,324.7 L82.8,324.8 L83.27,324.87 L83.74,324.93 L84.21,324.99 L84.69,325.03 L85.16,325.07 L85.63,325.09 L86.1,325.1 L86.56,325.09 L87.01,325.06 L87.47,325.02 L87.93,324.97 L88.39,324.92 L88.84,324.86 L89.3,324.8 L89.76,324.74 L90.22,324.66 L90.68,324.58 L91.14,324.49 L91.6,324.4 L92.1,324.29 L92.6,324.18 L93.1,324.05 L93.6,323.92 L94.1,323.78 L94.6,323.64 L95.1,323.49 L95.6,323.34 L96.1,323.18 L96.6,323.02 L97.1,322.85 L97.6,322.68 L98.1,322.5 L98.57,322.33 L99.04,322.15 L99.51,321.97 L99.99,321.78 L100.46,321.58 L100.93,321.38 L101.4,321.17 L101.87,320.95 L102.34,320.73 L102.81,320.5 L103.29,320.26 L103.76,320.02 L104.23,319.76 L104.7,319.5 L105.17,319.22 L105.64,318.9 L106.11,318.56 L106.59,318.21 L107.06,317.86 L107.53,317.52 L108,317.2 L108.46,316.87 L108.91,316.51 L109.37,316.15 L109.83,315.8 L110.29,315.51 L110.74,315.3 L111.2,315.2 L111.7,315.16 L112.2,315.13 L112.7,315.11 L113.2,315.1 L113.7,315.23 L114.2,315.56 L114.7,316.04 L115.2,316.6 L115.67,317.39 L116.15,318.53 L116.62,319.83 L117.1,321.1 L117.6,322.39 L118.1,323.72 L118.6,325.07 L119.1,326.4 L119.6,327.74 L120.1,329.1 L120.6,330.4 L121.1,331.6 L121.55,332.57 L122,333.47 L122.45,334.3 L122.92,334.23 L123.38,334.15 L123.84,334.05 L124.31,333.95 L124.78,333.84 L125.24,333.72 L125.7,333.6 L126.17,333.47 L126.63,333.34 L127.1,333.2 L127.6,333.04 L128.1,332.86 L128.6,332.66 L129.1,332.45 L129.6,332.24 L130.1,332.02 L130.6,331.8 L131.05,331.61 L131.5,331.42 L131.95,331.23 L132.4,331.03 L132.85,330.83 L133.3,330.6 L133.75,330.36 L134.2,330.1 L134.7,329.77 L135.2,329.38 L135.7,328.96 L136.2,328.51 L136.7,328.02 L137.2,327.52 L137.7,327 L138.2,326.45 L138.7,325.85 L139.2,325.22 L139.7,324.56 L140.2,323.88 L140.7,323.19 L141.2,322.5 L141.65,321.88 L142.1,321.26 L142.55,320.64 L143,320 L143.45,319.34 L143.9,318.66 L144.35,317.94 L144.8,317.2 L145.3,316.32 L145.8,315.38 L146.3,314.39 L146.8,313.36 L147.3,312.32 L147.8,311.26 L148.3,310.2 L148.75,309.24 L149.2,308.27 L149.65,307.29 L150.1,306.29 L150.55,305.28 L151,304.26 L151.45,303.23 L151.9,302.2 L152.33,301.19 L152.77,300.16 L153.2,299.12 L153.63,298.08 L154.07,297.03 L154.5,296 L155,294.82 L155.5,293.64 L156,292.46 L156.5,291.28 L157,290.11 L157.5,288.94 L158,287.77 L158.5,286.6 L159,285.43 L159.5,284.26 L160,283.1 L160.5,281.93 L161,280.76 L161.5,279.6 L161.97,278.5 L162.45,277.4 L162.93,276.3 L163.4,275.2 L163.88,274.11 L164.35,273.02 L164.82,271.92 L165.3,270.82 L165.77,269.72 L166.25,268.62 L166.72,267.51 L167.2,266.4 L167.67,265.19 L168.15,263.83 L168.62,262.37 L169.09,260.87 L169.56,259.39 L170.04,257.98 L170.51,256.7 L170.98,255.6 L171.45,254.75 L171.93,254.2 L172.4,254 L172.88,254 L173.36,254 L173.84,254 L174.31,254 L174.79,254 L175.27,254 L175.75,254 L176.23,254 L176.71,254 L177.19,254 L177.66,254 L178.14,254 L178.62,254 L179.1,254 L179.1,312.4 L178.61,312.64 L178.12,312.88 L177.62,313.13 L177.13,313.38 L176.64,313.64 L176.15,313.89 L175.66,314.15 L175.17,314.42 L174.67,314.68 L174.18,314.95 L173.69,315.23 L173.2,315.5 L172.74,315.76 L172.27,316.03 L171.81,316.31 L171.35,316.58 L170.89,316.86 L170.43,317.14 L169.96,317.42 L169.5,317.7 L169.04,317.97 L168.57,318.24 L168.11,318.5 L167.65,318.76 L167.19,319.03 L166.73,319.31 L166.26,319.6 L165.8,319.9 L165.32,320.23 L164.83,320.58 L164.35,320.94 L163.87,321.32 L163.38,321.7 L162.9,322.09 L162.42,322.49 L161.93,322.9 L161.45,323.32 L160.97,323.74 L160.48,324.17 L160,324.6 L159.54,325.02 L159.08,325.46 L158.62,325.91 L158.16,326.37 L157.7,326.84 L157.24,327.32 L156.78,327.79 L156.32,328.27 L155.86,328.74 L155.4,329.2 L154.9,329.7 L154.4,330.2 L153.9,330.7 L153.4,331.2 L152.9,331.7 L152.4,332.2 L151.9,332.7 L151.45,333.15 L151,333.61 L150.55,334.07 L150.1,334.53 L149.65,334.98 L149.2,335.43 L148.75,335.87 L148.3,336.3 L147.8,336.76 L147.3,337.22 L146.8,337.66 L146.3,338.1 L145.8,338.53 L145.3,338.96 L144.8,339.4 L144.35,339.8 L143.9,340.2 L143.45,340.61 L143,341.02 L142.55,341.41 L142.1,341.8 L141.65,342.16 L141.2,342.5 L140.7,342.87 L140.2,343.23 L139.7,343.59 L139.2,343.92 L138.7,344.23 L138.2,344.49 L137.7,344.7 L137.2,344.88 L136.7,345.06 L136.2,345.23 L135.7,345.38 L135.2,345.5 L134.7,345.57 L134.2,345.6 L133.75,345.59 L133.3,345.56 L132.85,345.51 L132.4,345.45 L131.95,345.38 L131.5,345.29 L131.05,345.2 L130.6,345.1 L130.1,344.95 L129.6,344.72 L129.1,344.44 L128.6,344.1 L128.1,343.73 L127.6,343.32 L127.1,342.9 L126.65,342.48 L126.2,342 L125.75,341.46 L125.3,340.84 L124.85,340.16 L124.4,339.4 L123.91,338.41 L123.43,337.19 L122.94,335.8 L122.45,334.3 L121.95,334.33 L121.46,334.35 L120.96,334.38 L120.46,334.4 L119.97,334.42 L119.47,334.44 L118.97,334.46 L118.48,334.48 L117.98,334.5 L117.48,334.52 L116.99,334.54 L116.49,334.56 L115.99,334.57 L115.5,334.59 L115,334.6 L114.54,334.61 L114.07,334.62 L113.61,334.62 L113.15,334.63 L112.68,334.64 L112.22,334.64 L111.75,334.65 L111.29,334.66 L110.83,334.67 L110.36,334.68 L109.9,334.7 L109.43,334.86 L108.95,335.24 L108.47,335.72 L108,336.2 L107.53,336.67 L107.06,337.18 L106.59,337.73 L106.11,338.32 L105.64,338.93 L105.17,339.56 L104.7,340.2 L104.23,340.88 L103.76,341.61 L103.29,342.37 L102.81,343.15 L102.34,343.92 L101.87,344.68 L101.4,345.4 L100.9,346.15 L100.4,346.91 L99.9,347.67 L99.4,348.41 L98.9,349.13 L98.4,349.79 L97.9,350.38 L97.4,350.9 L96.95,351.31 L96.5,351.7 L96.05,352.05 L95.6,352.39 L95.15,352.7 L94.7,352.99 L94.25,353.26 L93.8,353.5 L93.34,353.74 L92.88,353.97 L92.41,354.19 L91.95,354.4 L91.49,354.58 L91.02,354.75 L90.56,354.89 L90.1,355 L89.65,355.08 L89.2,355.15 L88.75,355.21 L88.3,355.26 L87.85,355.31 L87.4,355.37 L86.95,355.43 L86.5,355.5 L86.04,355.59 L85.58,355.68 L85.11,355.78 L84.65,355.89 L84.19,356.01 L83.72,356.13 L83.26,356.26 L82.8,356.4 L82.35,356.55 L81.9,356.71 L81.45,356.88 L81,357.07 L80.55,357.26 L80.1,357.47 L79.65,357.68 L79.2,357.9 L78.74,358.14 L78.28,358.39 L77.81,358.65 L77.35,358.93 L76.89,359.22 L76.42,359.51 L75.96,359.8 L75.5,360.1 L75.05,360.39 L74.6,360.68 L74.15,360.97 L73.7,361.27 L73.25,361.58 L72.8,361.9 L72.35,362.24 L71.9,362.6 L71.44,362.99 L70.98,363.41 L70.51,363.86 L70.05,364.32 L69.59,364.8 L69.12,365.29 L68.66,365.79 L68.2,366.3 L67.75,366.81 L67.3,367.35 L66.85,367.91 L66.4,368.49 L65.95,369.06 L65.5,369.63 L65.05,370.18 L64.6,370.7 L64.1,371.31 L63.6,371.99 L63.1,372.69 L62.6,373.37 L62.1,373.97 L61.6,374.46 L61.1,374.78 L60.6,374.9 L60.11,374.9 L59.63,374.9 L59.14,374.9 L58.66,374.9 L58.17,374.9 L57.69,374.9 L57.2,374.9 L56.71,374.9 L56.23,374.9 L55.74,374.9 L55.26,374.9 L54.77,374.9 L54.29,374.9 L53.8,374.9 Z" fill="#c2c2c2" stroke="none"/>
<path d="M53.8,340.1 L54.29,340.12 L54.78,340.13 L55.27,340.15 L55.76,340.16 L56.25,340.17 L56.75,340.19 L57.24,340.2 L57.73,340.22 L58.22,340.23 L58.71,340.24 L59.2,340.25 L59.69,340.27 L60.18,340.28 L60.67,340.29 L61.16,340.3 L61.65,340.31 L62.15,340.32 L62.64,340.33 L63.13,340.34 L63.62,340.35 L64.11,340.35 L64.6,340.36 L65.09,340.37 L65.58,340.37 L66.07,340.38 L66.56,340.38 L67.05,340.39 L67.55,340.39 L68.04,340.39 L68.53,340.4 L69.02,340.4 L69.51,340.4 L70,340.4 L70.5,340.4 L71,340.4 L71.5,340.4 L72,340.4 L72.5,340.4 L73,340.4 L73.5,340.4 L74,340.39 L74.5,340.39 L75,340.39 L75.5,340.39 L76,340.39 L76.5,340.39 L77,340.38 L77.5,340.38 L78,340.38 L78.5,340.37 L79,340.37 L79.5,340.37 L80,340.36 L80.5,340.36 L81,340.35 L81.5,340.35 L82,340.34 L82.5,340.33 L83,340.33 L83.5,340.32 L84,340.32 L84.5,340.31 L85,340.3 L85.47,340.28 L85.94,340.23 L86.41,340.16 L86.89,340.08 L87.36,339.99 L87.83,339.89 L88.3,339.8 L88.77,339.7 L89.24,339.6 L89.71,339.48 L90.19,339.35 L90.66,339.21 L91.13,339.06 L91.6,338.9 L92.06,338.72 L92.51,338.5 L92.97,338.26 L93.43,338 L93.89,337.73 L94.34,337.46 L94.8,337.2 L95.27,336.93 L95.74,336.66 L96.21,336.39 L96.69,336.11 L97.16,335.82 L97.63,335.52 L98.1,335.2 L98.57,334.87 L99.04,334.53 L99.51,334.18 L99.99,333.81 L100.46,333.42 L100.93,333.02 L101.4,332.6 L101.87,332.14 L102.34,331.63 L102.81,331.1 L103.29,330.55 L103.76,330.01 L104.23,329.48 L104.7,329 L105.17,328.54 L105.64,328.09 L106.11,327.65 L106.59,327.22 L107.06,326.82 L107.53,326.44 L108,326.1 L108.46,325.78 L108.91,325.45 L109.37,325.14 L109.83,324.85 L110.29,324.6 L110.74,324.42 L111.2,324.3 L111.7,324.22 L112.2,324.16 L112.7,324.12 L113.2,324.1 L113.63,324.16 L114.07,324.32 L114.5,324.55 L114.93,324.82 L115.37,325.12 L115.8,325.4 L116.3,325.73 L116.8,326.1 L117.3,326.52 L117.8,327 L118.23,327.51 L118.67,328.13 L119.1,328.83 L119.53,329.56 L119.97,330.29 L120.4,331 L120.81,331.65 L121.22,332.3 L121.63,332.96 L122.04,333.63 L122.45,334.3 L122.92,334.89 L123.4,335.44 L123.88,335.96 L124.35,336.43 L124.83,336.85 L125.3,337.2 L125.74,337.49 L126.17,337.77 L126.61,338.04 L127.05,338.29 L127.49,338.5 L127.93,338.68 L128.36,338.82 L128.8,338.9 L129.25,338.95 L129.7,339 L130.15,339.04 L130.6,339.07 L131.05,339.09 L131.5,339.1 L131.95,339.05 L132.4,338.92 L132.85,338.74 L133.3,338.5 L133.75,338.25 L134.2,338 L134.7,337.69 L135.2,337.32 L135.7,336.89 L136.2,336.43 L136.7,335.93 L137.2,335.42 L137.7,334.9 L138.2,334.35 L138.7,333.76 L139.2,333.14 L139.7,332.49 L140.2,331.83 L140.7,331.16 L141.2,330.5 L141.65,329.91 L142.1,329.3 L142.55,328.69 L143,328.08 L143.45,327.46 L143.9,326.84 L144.35,326.22 L144.8,325.6 L145.3,324.92 L145.8,324.24 L146.3,323.56 L146.8,322.88 L147.3,322.2 L147.8,321.5 L148.3,320.8 L148.75,320.16 L149.2,319.51 L149.65,318.85 L150.1,318.18 L150.55,317.52 L151,316.84 L151.45,316.17 L151.9,315.5 L152.4,314.75 L152.9,313.98 L153.4,313.21 L153.9,312.44 L154.4,311.68 L154.9,310.93 L155.4,310.2 L155.87,309.53 L156.34,308.88 L156.81,308.23 L157.28,307.6 L157.75,306.97 L158.22,306.35 L158.68,305.73 L159.15,305.1 L159.62,304.48 L160.09,303.85 L160.56,303.21 L161.03,302.56 L161.5,301.9 L161.99,301.2 L162.48,300.51 L162.97,299.81 L163.46,299.1 L163.94,298.4 L164.43,297.69 L164.92,296.98 L165.41,296.27 L165.9,295.56 L166.39,294.84 L166.88,294.12 L167.37,293.4 L167.86,292.67 L168.34,291.95 L168.83,291.22 L169.32,290.49 L169.81,289.75 L170.3,289.01 L170.79,288.27 L171.28,287.53 L171.77,286.78 L172.26,286.03 L172.74,285.28 L173.23,284.53 L173.72,283.77 L174.21,283.01 L174.7,282.24 L175.19,281.47 L175.68,280.7 L176.17,279.93 L176.66,279.15 L177.14,278.36 L177.63,277.58 L178.12,276.79 L178.61,276 L179.1,275.2" fill="none" stroke="#3a3a3a" stroke-width="1" stroke-linejoin="round"/>
<path d="M30.5,334.5H215" stroke="#555" stroke-width="1" stroke-dasharray="3.9,1.15" fill="none"/>
<path d="M122.5,250.1V379" stroke="#555" stroke-width="1" stroke-dasharray="3.9,1.0" fill="none"/>
<path d="M30.5,250.1V379.5" fill="none" stroke="#444" stroke-width="1"/>
<path d="M30,379H214.7" fill="none" stroke="#333" stroke-width="1"/>
<path d="M27.4,254H30M27.4,266.3H30M27.4,280.3H30M27.4,295.4H30M27.4,312.9H30M27.4,334.5H30M27.4,359.6H30" stroke="#666" stroke-width="1" fill="none"/>
<path d="M33.5,379V381M55.7,379V381M77.9,379V381M100.1,379V381M122.3,379V381M144.5,379V381M166.7,379V381M188.9,379V381M211.1,379V381" stroke="#555" stroke-width="0.9" fill="none"/>
<text x="111.4" y="242.8" font-size="15.5" text-anchor="middle" fill="#000">PS 0</text>
<text x="28.4" y="257.1" font-size="8.6" text-anchor="end" fill="#222">2</text>
<text x="28.4" y="269.4" font-size="8.6" text-anchor="end" fill="#222">1.8</text>
<text x="28.4" y="283.4" font-size="8.6" text-anchor="end" fill="#222">1.6</text>
<text x="28.4" y="298.5" font-size="8.6" text-anchor="end" fill="#222">1.4</text>
<text x="28.4" y="316" font-size="8.6" text-anchor="end" fill="#222">1.2</text>
<text x="28.4" y="337.1" font-size="8.6" text-anchor="end" fill="#222">1</text>
<text x="28.4" y="362.7" font-size="8.6" text-anchor="end" fill="#222">.8</text>
<text x="33.8" y="388.2" font-size="8.8" text-anchor="middle" fill="#222">&#8722;2</text>
<text x="56" y="388.2" font-size="8.8" text-anchor="middle" fill="#222">&#8722;1.5</text>
<text x="78.2" y="388.2" font-size="8.8" text-anchor="middle" fill="#222">&#8722;1</text>
<text x="100.4" y="388.2" font-size="8.8" text-anchor="middle" fill="#222">&#8722;.5</text>
<text x="122.6" y="388.2" font-size="8.8" text-anchor="middle" fill="#222">0</text>
<text x="144.8" y="388.2" font-size="8.8" text-anchor="middle" fill="#222">.5</text>
<text x="167" y="388.2" font-size="8.8" text-anchor="middle" fill="#222">1</text>
<text x="189.2" y="388.2" font-size="8.8" text-anchor="middle" fill="#222">1.5</text>
<text x="211.4" y="388.2" font-size="8.8" text-anchor="middle" fill="#222">2</text>
<text x="125.4" y="398.6" font-size="11.3" text-anchor="middle" fill="#222">Change of calcium</text>
<text transform="translate(8.9,310.7) rotate(-90)" font-size="11.7" text-anchor="middle" fill="#222">Hazard Ratios</text>
<path d="M265,254H448.6M265,266.3H448.6M265,280.3H448.6M265,295.4H448.6M265,312.9H448.6M265,359.6H448.6" stroke="#eef3f4" stroke-width="1" fill="none"/>
<path d="M288.2,321.1 L327.2,334 L340,334.4 L356.7,334.2 L412.9,284.8 L412.9,337.9 L356.7,334.2 L356.23,334.41 L355.76,334.63 L355.29,334.85 L354.81,335.07 L354.34,335.29 L353.87,335.52 L353.4,335.76 L352.93,335.99 L352.46,336.24 L351.99,336.48 L351.51,336.73 L351.04,336.98 L350.57,337.24 L350.1,337.5 L349.61,337.77 L349.12,338.05 L348.64,338.33 L348.15,338.62 L347.66,338.91 L347.18,339.2 L346.69,339.5 L346.2,339.8 L345.71,340.11 L345.23,340.41 L344.74,340.73 L344.25,341.04 L343.76,341.36 L343.27,341.68 L342.79,342.01 L342.3,342.34 L341.81,342.67 L341.32,343.01 L340.84,343.35 L340.35,343.69 L339.86,344.04 L339.38,344.39 L338.89,344.74 L338.4,345.1 L337.91,345.46 L337.42,345.83 L336.94,346.21 L336.45,346.59 L335.96,346.97 L335.47,347.37 L334.99,347.76 L334.5,348.17 L334.01,348.57 L333.52,348.98 L333.04,349.4 L332.55,349.82 L332.06,350.24 L331.57,350.66 L331.09,351.09 L330.6,351.52 L330.11,351.95 L329.62,352.38 L329.14,352.82 L328.65,353.25 L328.16,353.69 L327.68,354.13 L327.19,354.56 L326.7,355 L326.21,355.44 L325.72,355.88 L325.24,356.33 L324.75,356.78 L324.26,357.23 L323.77,357.69 L323.29,358.15 L322.8,358.61 L322.31,359.07 L321.82,359.54 L321.34,360 L320.85,360.47 L320.36,360.94 L319.88,361.41 L319.39,361.89 L318.9,362.36 L318.41,362.83 L317.93,363.3 L317.44,363.77 L316.95,364.24 L316.46,364.71 L315.98,365.17 L315.49,365.64 L315,366.1 L314.52,366.58 L314.04,367.09 L313.56,367.64 L313.08,368.21 L312.61,368.8 L312.13,369.4 L311.65,370.01 L311.17,370.61 L310.69,371.19 L310.21,371.76 L309.73,372.29 L309.25,372.8 L308.77,373.26 L308.29,373.67 L307.82,374.02 L307.34,374.31 L306.86,374.52 L306.38,374.65 L305.9,374.7 L305.41,374.7 L304.92,374.7 L304.42,374.7 L303.93,374.7 L303.44,374.7 L302.95,374.7 L302.46,374.7 L301.97,374.7 L301.47,374.7 L300.98,374.7 L300.49,374.7 L300,374.7 L299.51,374.7 L299.02,374.7 L298.52,374.7 L298.03,374.7 L297.54,374.7 L297.05,374.7 L296.56,374.7 L296.07,374.7 L295.57,374.7 L295.08,374.7 L294.59,374.7 L294.1,374.7 L293.61,374.7 L293.12,374.7 L292.62,374.7 L292.13,374.7 L291.64,374.7 L291.15,374.7 L290.66,374.7 L290.17,374.7 L289.68,374.7 L289.18,374.7 L288.69,374.7 L288.2,374.7 Z" fill="#c2c2c2" stroke="none"/>
<path d="M288.2,356.8 L356.7,334.2 L412.9,311.2" fill="none" stroke="#3a3a3a" stroke-width="1" stroke-linejoin="round"/>
<path d="M264.5,334.5H449" stroke="#555" stroke-width="1" stroke-dasharray="3.9,1.15" fill="none"/>
<path d="M357,250.1V379" stroke="#555" stroke-width="1" stroke-dasharray="3.9,1.0" fill="none"/>
<path d="M264.5,250.1V379.5" fill="none" stroke="#444" stroke-width="1"/>
<path d="M264,379H448.7" fill="none" stroke="#333" stroke-width="1"/>
<path d="M261.4,254H264M261.4,266.3H264M261.4,280.3H264M261.4,295.4H264M261.4,312.9H264M261.4,334.5H264M261.4,359.6H264" stroke="#666" stroke-width="1" fill="none"/>
<path d="M267.8,379V381M290,379V381M312.2,379V381M334.4,379V381M356.6,379V381M378.8,379V381M401,379V381M423.2,379V381M445.4,379V381" stroke="#555" stroke-width="0.9" fill="none"/>
<text x="346.9" y="242.8" font-size="15.5" text-anchor="middle" fill="#000">PS 1</text>
<text x="262.2" y="257.1" font-size="8.6" text-anchor="end" fill="#222">2</text>
<text x="262.2" y="269.4" font-size="8.6" text-anchor="end" fill="#222">1.8</text>
<text x="262.2" y="283.4" font-size="8.6" text-anchor="end" fill="#222">1.6</text>
<text x="262.2" y="298.5" font-size="8.6" text-anchor="end" fill="#222">1.4</text>
<text x="262.2" y="316" font-size="8.6" text-anchor="end" fill="#222">1.2</text>
<text x="262.2" y="337.1" font-size="8.6" text-anchor="end" fill="#222">1</text>
<text x="262.2" y="362.7" font-size="8.6" text-anchor="end" fill="#222">.8</text>
<text x="268.1" y="388.2" font-size="8.8" text-anchor="middle" fill="#222">&#8722;2</text>
<text x="290.3" y="388.2" font-size="8.8" text-anchor="middle" fill="#222">&#8722;1.5</text>
<text x="312.5" y="388.2" font-size="8.8" text-anchor="middle" fill="#222">&#8722;1</text>
<text x="334.7" y="388.2" font-size="8.8" text-anchor="middle" fill="#222">&#8722;.5</text>
<text x="356.9" y="388.2" font-size="8.8" text-anchor="middle" fill="#222">0</text>
<text x="379.1" y="388.2" font-size="8.8" text-anchor="middle" fill="#222">.5</text>
<text x="401.3" y="388.2" font-size="8.8" text-anchor="middle" fill="#222">1</text>
<text x="423.5" y="388.2" font-size="8.8" text-anchor="middle" fill="#222">1.5</text>
<text x="445.7" y="388.2" font-size="8.8" text-anchor="middle" fill="#222">2</text>
<text x="359.7" y="398.6" font-size="11.3" text-anchor="middle" fill="#222">Change of calcium</text>
<text transform="translate(243.5,310.7) rotate(-90)" font-size="11.7" text-anchor="middle" fill="#222">Hazard Ratios</text>
<path d="M500,254H683.6M500,266.3H683.6M500,280.3H683.6M500,295.4H683.6M500,312.9H683.6M500,359.6H683.6" stroke="#eef3f4" stroke-width="1" fill="none"/>
<path d="M523.3,302.2 L523.78,302.5 L524.26,302.79 L524.73,303.09 L525.21,303.39 L525.69,303.68 L526.17,303.98 L526.64,304.27 L527.12,304.57 L527.6,304.86 L528.08,305.16 L528.56,305.45 L529.03,305.75 L529.51,306.04 L529.99,306.33 L530.47,306.63 L530.94,306.92 L531.42,307.21 L531.9,307.5 L532.4,307.8 L532.9,308.11 L533.4,308.41 L533.9,308.72 L534.4,309.02 L534.9,309.33 L535.4,309.63 L535.9,309.94 L536.4,310.24 L536.9,310.55 L537.4,310.85 L537.9,311.15 L538.4,311.45 L538.9,311.76 L539.4,312.06 L539.9,312.36 L540.4,312.66 L540.9,312.96 L541.4,313.26 L541.9,313.56 L542.4,313.85 L542.9,314.15 L543.4,314.44 L543.9,314.74 L544.4,315.03 L544.9,315.32 L545.4,315.61 L545.9,315.9 L546.4,316.19 L546.89,316.47 L547.39,316.76 L547.89,317.05 L548.38,317.33 L548.88,317.62 L549.38,317.91 L549.87,318.19 L550.37,318.48 L550.86,318.76 L551.36,319.05 L551.86,319.33 L552.35,319.61 L552.85,319.89 L553.35,320.17 L553.84,320.45 L554.34,320.72 L554.84,321 L555.33,321.27 L555.83,321.54 L556.32,321.81 L556.82,322.07 L557.32,322.33 L557.81,322.59 L558.31,322.85 L558.81,323.1 L559.3,323.35 L559.8,323.6 L560.3,323.85 L560.79,324.09 L561.29,324.33 L561.79,324.58 L562.28,324.82 L562.78,325.06 L563.27,325.31 L563.77,325.55 L564.27,325.78 L564.76,326.02 L565.26,326.26 L565.76,326.49 L566.25,326.72 L566.75,326.95 L567.25,327.17 L567.74,327.4 L568.24,327.62 L568.74,327.84 L569.23,328.05 L569.73,328.26 L570.23,328.47 L570.72,328.67 L571.22,328.87 L571.71,329.06 L572.21,329.26 L572.71,329.44 L573.2,329.62 L573.7,329.8 L574.2,329.97 L574.7,330.14 L575.2,330.31 L575.7,330.47 L576.2,330.63 L576.7,330.79 L577.2,330.94 L577.7,331.09 L578.2,331.24 L578.7,331.38 L579.2,331.51 L579.7,331.65 L580.2,331.78 L580.7,331.9 L581.2,332.02 L581.69,332.14 L582.19,332.26 L582.68,332.37 L583.18,332.49 L583.67,332.6 L584.17,332.71 L584.66,332.82 L585.16,332.93 L585.65,333.04 L586.15,333.14 L586.65,333.24 L587.14,333.34 L587.64,333.44 L588.13,333.53 L588.63,333.62 L589.12,333.71 L589.62,333.79 L590.11,333.87 L590.61,333.95 L591.1,334.03 L591.6,334.1 L596.5,331.9 L648.2,304.8 L648.2,360.4 L591.6,334.1 L591.1,334.15 L590.61,334.21 L590.11,334.28 L589.62,334.36 L589.12,334.45 L588.63,334.54 L588.13,334.64 L587.64,334.75 L587.14,334.87 L586.65,334.99 L586.15,335.12 L585.65,335.25 L585.16,335.39 L584.66,335.53 L584.17,335.68 L583.67,335.83 L583.18,335.98 L582.68,336.14 L582.19,336.3 L581.69,336.47 L581.2,336.63 L580.7,336.8 L580.2,336.98 L579.7,337.17 L579.2,337.39 L578.7,337.61 L578.2,337.85 L577.7,338.1 L577.2,338.36 L576.7,338.62 L576.2,338.9 L575.7,339.17 L575.2,339.46 L574.7,339.74 L574.2,340.02 L573.7,340.3 L573.2,340.58 L572.71,340.87 L572.21,341.16 L571.71,341.45 L571.22,341.76 L570.72,342.06 L570.23,342.37 L569.73,342.69 L569.23,343.01 L568.74,343.33 L568.24,343.65 L567.74,343.98 L567.25,344.31 L566.75,344.65 L566.25,344.98 L565.76,345.32 L565.26,345.66 L564.76,346 L564.27,346.34 L563.77,346.68 L563.27,347.02 L562.78,347.36 L562.28,347.71 L561.79,348.05 L561.29,348.39 L560.79,348.73 L560.3,349.06 L559.8,349.4 L559.3,349.74 L558.81,350.07 L558.31,350.41 L557.81,350.75 L557.32,351.09 L556.82,351.44 L556.32,351.78 L555.83,352.13 L555.33,352.47 L554.84,352.82 L554.34,353.16 L553.84,353.51 L553.35,353.86 L552.85,354.21 L552.35,354.56 L551.86,354.91 L551.36,355.26 L550.86,355.61 L550.37,355.96 L549.87,356.31 L549.38,356.66 L548.88,357.01 L548.38,357.36 L547.89,357.71 L547.39,358.06 L546.89,358.4 L546.4,358.75 L545.9,359.1 L545.4,359.45 L544.9,359.8 L544.4,360.15 L543.9,360.51 L543.4,360.86 L542.9,361.22 L542.4,361.57 L541.9,361.93 L541.4,362.28 L540.9,362.64 L540.4,362.99 L539.9,363.35 L539.4,363.7 L538.9,364.06 L538.4,364.41 L537.9,364.77 L537.4,365.12 L536.9,365.47 L536.4,365.82 L535.9,366.17 L535.4,366.52 L534.9,366.86 L534.4,367.21 L533.9,367.55 L533.4,367.89 L532.9,368.23 L532.4,368.57 L531.9,368.9 L531.42,369.22 L530.94,369.53 L530.47,369.85 L529.99,370.16 L529.51,370.47 L529.03,370.78 L528.56,371.09 L528.08,371.4 L527.6,371.7 L527.12,372.01 L526.64,372.31 L526.17,372.61 L525.69,372.91 L525.21,373.21 L524.73,373.51 L524.26,373.81 L523.78,374.1 L523.3,374.4 Z" fill="#c2c2c2" stroke="none"/>
<path d="M523.3,338.5 L591.6,334.1 L648.2,332.2" fill="none" stroke="#3a3a3a" stroke-width="1" stroke-linejoin="round"/>
<path d="M499.5,334.5H684" stroke="#555" stroke-width="1" stroke-dasharray="3.9,1.15" fill="none"/>
<path d="M591.5,250.1V379" stroke="#555" stroke-width="1" stroke-dasharray="3.9,1.0" fill="none"/>
<path d="M499.5,250.1V379.5" fill="none" stroke="#444" stroke-width="1"/>
<path d="M499,379H683.7" fill="none" stroke="#333" stroke-width="1"/>
<path d="M496.4,254H499M496.4,266.3H499M496.4,280.3H499M496.4,295.4H499M496.4,312.9H499M496.4,334.5H499M496.4,359.6H499" stroke="#666" stroke-width="1" fill="none"/>
<path d="M503.5,379V381M525.7,379V381M547.9,379V381M570.1,379V381M592.3,379V381M614.5,379V381M636.7,379V381M658.9,379V381M681.1,379V381" stroke="#555" stroke-width="0.9" fill="none"/>
<text x="580" y="242.8" font-size="15.5" text-anchor="middle" fill="#000">PS 2-4</text>
<text x="497.2" y="257.1" font-size="8.6" text-anchor="end" fill="#222">2</text>
<text x="497.2" y="269.4" font-size="8.6" text-anchor="end" fill="#222">1.8</text>
<text x="497.2" y="283.4" font-size="8.6" text-anchor="end" fill="#222">1.6</text>
<text x="497.2" y="298.5" font-size="8.6" text-anchor="end" fill="#222">1.4</text>
<text x="497.2" y="316" font-size="8.6" text-anchor="end" fill="#222">1.2</text>
<text x="497.2" y="337.1" font-size="8.6" text-anchor="end" fill="#222">1</text>
<text x="497.2" y="362.7" font-size="8.6" text-anchor="end" fill="#222">.8</text>
<text x="503.8" y="388.2" font-size="8.8" text-anchor="middle" fill="#222">&#8722;2</text>
<text x="526" y="388.2" font-size="8.8" text-anchor="middle" fill="#222">&#8722;1.5</text>
<text x="548.2" y="388.2" font-size="8.8" text-anchor="middle" fill="#222">&#8722;1</text>
<text x="570.4" y="388.2" font-size="8.8" text-anchor="middle" fill="#222">&#8722;.5</text>
<text x="592.6" y="388.2" font-size="8.8" text-anchor="middle" fill="#222">0</text>
<text x="614.8" y="388.2" font-size="8.8" text-anchor="middle" fill="#222">.5</text>
<text x="637" y="388.2" font-size="8.8" text-anchor="middle" fill="#222">1</text>
<text x="659.2" y="388.2" font-size="8.8" text-anchor="middle" fill="#222">1.5</text>
<text x="681.4" y="388.2" font-size="8.8" text-anchor="middle" fill="#222">2</text>
<text x="595.4" y="398.6" font-size="11.3" text-anchor="middle" fill="#222">Change of calcium</text>
<text transform="translate(478.2,310.7) rotate(-90)" font-size="11.7" text-anchor="middle" fill="#222">Hazard Ratios</text>
<text x="346.3" y="429.7" font-size="15.65" text-anchor="middle" fill="#000">Baseline Ca &#8805;10.0 mg/dL</text>
<path d="M31,463H214.6M31,475.3H214.6M31,489.3H214.6M31,504.4H214.6M31,521.9H214.6M31,568.6H214.6" stroke="#eef3f4" stroke-width="1" fill="none"/>
<path d="M33.9,544.2 L34.39,544.34 L34.88,544.48 L35.37,544.61 L35.86,544.75 L36.35,544.88 L36.84,545.01 L37.33,545.14 L37.82,545.26 L38.31,545.38 L38.8,545.5 L39.28,545.61 L39.77,545.72 L40.25,545.83 L40.73,545.94 L41.22,546.04 L41.7,546.14 L42.18,546.24 L42.67,546.34 L43.15,546.44 L43.63,546.54 L44.12,546.63 L44.6,546.73 L45.08,546.82 L45.57,546.92 L46.05,547.01 L46.53,547.11 L47.02,547.2 L47.5,547.3 L47.99,547.4 L48.48,547.49 L48.97,547.59 L49.46,547.69 L49.94,547.78 L50.43,547.88 L50.92,547.97 L51.41,548.07 L51.9,548.16 L52.39,548.26 L52.88,548.35 L53.37,548.44 L53.86,548.54 L54.34,548.63 L54.83,548.72 L55.32,548.82 L55.81,548.91 L56.3,549 L56.78,549.09 L57.27,549.19 L57.75,549.3 L58.23,549.4 L58.72,549.51 L59.2,549.62 L59.68,549.73 L60.17,549.84 L60.65,549.94 L61.13,550.04 L61.62,550.14 L62.1,550.23 L62.58,550.32 L63.07,550.39 L63.55,550.46 L64.03,550.52 L64.52,550.57 L65,550.6 L65.49,550.63 L65.98,550.65 L66.47,550.68 L66.96,550.71 L67.44,550.73 L67.93,550.75 L68.42,550.77 L68.91,550.79 L69.4,550.81 L69.89,550.83 L70.38,550.85 L70.87,550.86 L71.36,550.87 L71.84,550.88 L72.33,550.89 L72.82,550.9 L73.31,550.9 L73.8,550.9 L74.29,550.9 L74.78,550.89 L75.27,550.89 L75.76,550.88 L76.24,550.87 L76.73,550.86 L77.22,550.84 L77.71,550.83 L78.2,550.81 L78.69,550.79 L79.18,550.77 L79.67,550.75 L80.16,550.72 L80.64,550.7 L81.13,550.68 L81.62,550.65 L82.11,550.63 L82.6,550.6 L83.09,550.57 L83.59,550.54 L84.08,550.5 L84.57,550.46 L85.07,550.41 L85.56,550.36 L86.05,550.31 L86.55,550.25 L87.04,550.2 L87.53,550.13 L88.03,550.07 L88.52,550.01 L89.01,549.94 L89.51,549.87 L90,549.8 L90.46,549.73 L90.91,549.65 L91.37,549.56 L91.83,549.47 L92.29,549.38 L92.74,549.29 L93.2,549.2 L93.68,549.11 L94.16,549.02 L94.65,548.94 L95.13,548.85 L95.61,548.76 L96.09,548.68 L96.58,548.59 L97.06,548.51 L97.54,548.42 L98.02,548.33 L98.51,548.25 L98.99,548.16 L99.47,548.07 L99.95,547.98 L100.44,547.89 L100.92,547.8 L101.4,547.7 L101.88,547.6 L102.36,547.5 L102.85,547.4 L103.33,547.3 L103.81,547.2 L104.29,547.1 L104.78,546.99 L105.26,546.89 L105.74,546.78 L106.22,546.67 L106.71,546.56 L107.19,546.45 L107.67,546.34 L108.15,546.23 L108.64,546.12 L109.12,546.01 L109.6,545.9 L110.08,545.79 L110.56,545.68 L111.05,545.56 L111.53,545.45 L112.01,545.34 L112.49,545.22 L112.98,545.11 L113.46,544.99 L113.94,544.87 L114.42,544.76 L114.91,544.64 L115.39,544.52 L115.87,544.4 L116.35,544.27 L116.84,544.15 L117.32,544.03 L117.8,543.9 L118.27,543.78 L118.73,543.65 L119.19,543.53 L119.66,543.4 L120.12,543.27 L120.59,543.14 L121.06,543 L121.52,542.87 L121.98,542.74 L122.45,542.6 L160.8,501.1 L160.8,532.5 L122.45,542.6 L121.98,542.95 L121.52,543.31 L121.06,543.67 L120.59,544.04 L120.12,544.42 L119.66,544.8 L119.19,545.19 L118.73,545.59 L118.27,545.99 L117.8,546.4 L117.32,546.84 L116.84,547.28 L116.35,547.74 L115.87,548.21 L115.39,548.68 L114.91,549.16 L114.42,549.65 L113.94,550.14 L113.46,550.64 L112.98,551.13 L112.49,551.63 L112.01,552.13 L111.53,552.63 L111.05,553.13 L110.56,553.62 L110.08,554.11 L109.6,554.6 L109.12,555.09 L108.64,555.58 L108.15,556.07 L107.67,556.57 L107.19,557.07 L106.71,557.57 L106.22,558.07 L105.74,558.57 L105.26,559.07 L104.78,559.56 L104.29,560.05 L103.81,560.53 L103.33,561 L102.85,561.47 L102.36,561.92 L101.88,562.37 L101.4,562.8 L100.92,563.23 L100.44,563.65 L99.95,564.07 L99.47,564.49 L98.99,564.9 L98.51,565.31 L98.02,565.72 L97.54,566.11 L97.06,566.5 L96.58,566.89 L96.09,567.26 L95.61,567.63 L95.13,567.98 L94.65,568.33 L94.16,568.67 L93.68,568.99 L93.2,569.3 L92.72,569.6 L92.24,569.89 L91.75,570.18 L91.27,570.46 L90.79,570.73 L90.31,571 L89.82,571.26 L89.34,571.51 L88.86,571.76 L88.38,572 L87.89,572.24 L87.41,572.48 L86.93,572.71 L86.45,572.94 L85.96,573.16 L85.48,573.38 L85,573.6 L84.53,573.81 L84.07,574.03 L83.6,574.25 L83.13,574.47 L82.67,574.67 L82.2,574.86 L81.73,575.03 L81.27,575.18 L80.8,575.3 L80.3,575.41 L79.8,575.52 L79.3,575.62 L78.8,575.72 L78.3,575.82 L77.8,575.91 L77.3,575.99 L76.8,576.07 L76.3,576.13 L75.8,576.19 L75.3,576.24 L74.8,576.27 L74.3,576.29 L73.8,576.3 L73.31,576.3 L72.82,576.3 L72.33,576.3 L71.84,576.3 L71.36,576.3 L70.87,576.3 L70.38,576.3 L69.89,576.3 L69.4,576.3 L68.91,576.3 L68.42,576.3 L67.93,576.3 L67.44,576.3 L66.96,576.3 L66.47,576.3 L65.98,576.3 L65.49,576.3 L65,576.3 L64.52,576.3 L64.03,576.29 L63.55,576.29 L63.07,576.28 L62.58,576.26 L62.1,576.25 L61.62,576.23 L61.13,576.22 L60.65,576.2 L60.17,576.18 L59.68,576.16 L59.2,576.13 L58.72,576.11 L58.23,576.09 L57.75,576.07 L57.27,576.04 L56.78,576.02 L56.3,576 L55.81,575.98 L55.32,575.95 L54.83,575.93 L54.34,575.9 L53.86,575.88 L53.37,575.85 L52.88,575.82 L52.39,575.79 L51.9,575.76 L51.41,575.73 L50.92,575.7 L50.43,575.67 L49.94,575.64 L49.46,575.61 L48.97,575.58 L48.48,575.55 L47.99,575.53 L47.5,575.5 L47.02,575.48 L46.53,575.45 L46.05,575.43 L45.57,575.4 L45.08,575.38 L44.6,575.36 L44.12,575.34 L43.63,575.31 L43.15,575.29 L42.67,575.27 L42.18,575.25 L41.7,575.23 L41.22,575.21 L40.73,575.18 L40.25,575.16 L39.77,575.14 L39.28,575.12 L38.8,575.1 L38.31,575.08 L37.82,575.06 L37.33,575.04 L36.84,575.02 L36.35,575 L35.86,574.98 L35.37,574.96 L34.88,574.94 L34.39,574.92 L33.9,574.9 Z" fill="#c2c2c2" stroke="none"/>
<path d="M33.9,559.3 L34.39,559.43 L34.88,559.56 L35.37,559.69 L35.86,559.81 L36.35,559.92 L36.84,560.04 L37.33,560.14 L37.82,560.24 L38.31,560.32 L38.8,560.4 L39.28,560.47 L39.77,560.53 L40.25,560.59 L40.73,560.64 L41.22,560.7 L41.7,560.74 L42.18,560.79 L42.67,560.83 L43.15,560.88 L43.63,560.92 L44.12,560.96 L44.6,561 L45.08,561.05 L45.57,561.09 L46.05,561.14 L46.53,561.19 L47.02,561.24 L47.5,561.3 L47.99,561.36 L48.48,561.43 L48.97,561.5 L49.46,561.57 L49.94,561.64 L50.43,561.72 L50.92,561.79 L51.41,561.87 L51.9,561.95 L52.39,562.03 L52.88,562.11 L53.37,562.18 L53.86,562.26 L54.34,562.33 L54.83,562.4 L55.32,562.47 L55.81,562.54 L56.3,562.6 L56.78,562.66 L57.27,562.72 L57.75,562.79 L58.23,562.85 L58.72,562.91 L59.2,562.98 L59.68,563.04 L60.17,563.1 L60.65,563.16 L61.13,563.22 L61.62,563.27 L62.1,563.32 L62.58,563.36 L63.07,563.4 L63.55,563.44 L64.03,563.47 L64.52,563.49 L65,563.5 L65.49,563.51 L65.98,563.52 L66.47,563.53 L66.96,563.54 L67.44,563.55 L67.93,563.55 L68.42,563.56 L68.91,563.57 L69.4,563.57 L69.89,563.58 L70.38,563.58 L70.87,563.59 L71.36,563.59 L71.84,563.59 L72.33,563.6 L72.82,563.6 L73.31,563.6 L73.8,563.6 L74.29,563.6 L74.78,563.59 L75.27,563.57 L75.76,563.55 L76.24,563.53 L76.73,563.5 L77.22,563.46 L77.71,563.42 L78.2,563.38 L78.69,563.33 L79.18,563.29 L79.67,563.24 L80.16,563.18 L80.64,563.13 L81.13,563.07 L81.62,563.02 L82.11,562.96 L82.6,562.9 L83.09,562.84 L83.59,562.77 L84.08,562.69 L84.57,562.61 L85.07,562.52 L85.56,562.43 L86.05,562.32 L86.55,562.22 L87.04,562.1 L87.53,561.98 L88.03,561.86 L88.52,561.73 L89.01,561.59 L89.51,561.45 L90,561.3 L90.46,561.15 L90.91,560.96 L91.37,560.76 L91.83,560.55 L92.29,560.33 L92.74,560.11 L93.2,559.9 L93.68,559.69 L94.16,559.48 L94.65,559.27 L95.13,559.06 L95.61,558.85 L96.09,558.65 L96.58,558.44 L97.06,558.23 L97.54,558.02 L98.02,557.8 L98.51,557.59 L98.99,557.37 L99.47,557.14 L99.95,556.92 L100.44,556.68 L100.92,556.44 L101.4,556.2 L101.88,555.95 L102.36,555.69 L102.85,555.43 L103.33,555.16 L103.81,554.88 L104.29,554.6 L104.78,554.32 L105.26,554.03 L105.74,553.73 L106.22,553.44 L106.71,553.14 L107.19,552.84 L107.67,552.53 L108.15,552.23 L108.64,551.92 L109.12,551.61 L109.6,551.3 L110.08,550.99 L110.56,550.67 L111.05,550.34 L111.53,550.01 L112.01,549.67 L112.49,549.33 L112.98,548.99 L113.46,548.65 L113.94,548.3 L114.42,547.96 L114.91,547.61 L115.39,547.27 L115.87,546.93 L116.35,546.59 L116.84,546.25 L117.32,545.92 L117.8,545.6 L118.27,545.29 L118.73,544.98 L119.19,544.68 L119.66,544.38 L120.12,544.08 L120.59,543.78 L121.06,543.48 L121.52,543.19 L121.98,542.89 L122.45,542.6 L160.8,516.8" fill="none" stroke="#3a3a3a" stroke-width="1" stroke-linejoin="round"/>
<path d="M30.5,542.5H215" stroke="#555" stroke-width="1" stroke-dasharray="3.9,1.15" fill="none"/>
<path d="M122.5,459.1V587.5" stroke="#555" stroke-width="1" stroke-dasharray="3.9,1.0" fill="none"/>
<path d="M30.5,459.1V588" fill="none" stroke="#444" stroke-width="1"/>
<path d="M30,587.5H214.7" fill="none" stroke="#333" stroke-width="1"/>
<path d="M27.4,463H30M27.4,475.3H30M27.4,489.3H30M27.4,504.4H30M27.4,521.9H30M27.4,542.5H30M27.4,568.6H30" stroke="#666" stroke-width="1" fill="none"/>
<path d="M33.5,587.5V589.5M55.7,587.5V589.5M77.9,587.5V589.5M100.1,587.5V589.5M122.3,587.5V589.5M144.5,587.5V589.5M166.7,587.5V589.5M188.9,587.5V589.5M211.1,587.5V589.5" stroke="#555" stroke-width="0.9" fill="none"/>
<text x="111.4" y="452.7" font-size="15.5" text-anchor="middle" fill="#000">PS 0</text>
<text x="28.4" y="466.1" font-size="8.6" text-anchor="end" fill="#222">2</text>
<text x="28.4" y="478.4" font-size="8.6" text-anchor="end" fill="#222">1.8</text>
<text x="28.4" y="492.4" font-size="8.6" text-anchor="end" fill="#222">1.6</text>
<text x="28.4" y="507.5" font-size="8.6" text-anchor="end" fill="#222">1.4</text>
<text x="28.4" y="525" font-size="8.6" text-anchor="end" fill="#222">1.2</text>
<text x="28.4" y="546.1" font-size="8.6" text-anchor="end" fill="#222">1</text>
<text x="28.4" y="571.7" font-size="8.6" text-anchor="end" fill="#222">.8</text>
<text x="33.8" y="597.2" font-size="8.8" text-anchor="middle" fill="#222">&#8722;2</text>
<text x="56" y="597.2" font-size="8.8" text-anchor="middle" fill="#222">&#8722;1.5</text>
<text x="78.2" y="597.2" font-size="8.8" text-anchor="middle" fill="#222">&#8722;1</text>
<text x="100.4" y="597.2" font-size="8.8" text-anchor="middle" fill="#222">&#8722;.5</text>
<text x="122.6" y="597.2" font-size="8.8" text-anchor="middle" fill="#222">0</text>
<text x="144.8" y="597.2" font-size="8.8" text-anchor="middle" fill="#222">.5</text>
<text x="167" y="597.2" font-size="8.8" text-anchor="middle" fill="#222">1</text>
<text x="189.2" y="597.2" font-size="8.8" text-anchor="middle" fill="#222">1.5</text>
<text x="211.4" y="597.2" font-size="8.8" text-anchor="middle" fill="#222">2</text>
<text x="125.4" y="607.7" font-size="11.3" text-anchor="middle" fill="#222">Change of calcium</text>
<text transform="translate(8.9,519.6) rotate(-90)" font-size="11.7" text-anchor="middle" fill="#222">Hazard Ratios</text>
<path d="M265,463H448.6M265,475.3H448.6M265,489.3H448.6M265,504.4H448.6M265,521.9H448.6M265,568.6H448.6" stroke="#eef3f4" stroke-width="1" fill="none"/>
<path d="M268.3,540.4 L268.77,540.62 L269.25,540.83 L269.72,541.05 L270.19,541.25 L270.66,541.45 L271.14,541.64 L271.61,541.83 L272.08,541.99 L272.55,542.15 L273.03,542.28 L273.5,542.4 L274,542.51 L274.49,542.61 L274.99,542.71 L275.48,542.81 L275.98,542.89 L276.47,542.98 L276.97,543.06 L277.47,543.14 L277.96,543.21 L278.46,543.28 L278.95,543.35 L279.45,543.42 L279.94,543.48 L280.44,543.54 L280.93,543.6 L281.43,543.67 L281.93,543.73 L282.42,543.79 L282.92,543.85 L283.41,543.91 L283.91,543.97 L284.4,544.03 L284.9,544.1 L285.4,544.17 L285.9,544.24 L286.4,544.3 L286.9,544.37 L287.4,544.44 L287.9,544.51 L288.4,544.58 L288.9,544.64 L289.4,544.71 L289.9,544.78 L290.4,544.84 L290.9,544.91 L291.4,544.97 L291.9,545.03 L292.4,545.09 L292.9,545.15 L293.4,545.21 L293.9,545.26 L294.4,545.32 L294.9,545.37 L295.4,545.41 L295.9,545.46 L296.4,545.5 L296.9,545.54 L297.4,545.58 L297.9,545.62 L298.4,545.65 L298.9,545.69 L299.4,545.72 L299.9,545.76 L300.4,545.79 L300.9,545.82 L301.4,545.85 L301.9,545.88 L302.4,545.91 L302.9,545.94 L303.4,545.97 L303.9,546 L304.4,546.02 L304.9,546.05 L305.4,546.08 L305.9,546.1 L306.4,546.13 L306.9,546.15 L307.4,546.18 L307.9,546.2 L308.38,546.22 L308.86,546.25 L309.34,546.27 L309.82,546.3 L310.3,546.32 L310.79,546.35 L311.27,546.38 L311.75,546.4 L312.23,546.42 L312.71,546.45 L313.19,546.47 L313.67,546.49 L314.15,546.51 L314.63,546.53 L315.11,546.55 L315.6,546.56 L316.08,546.58 L316.56,546.59 L317.04,546.59 L317.52,546.6 L318,546.6 L318.49,546.6 L318.99,546.59 L319.48,546.59 L319.97,546.58 L320.47,546.56 L320.96,546.55 L321.45,546.53 L321.95,546.51 L322.44,546.49 L322.93,546.47 L323.43,546.45 L323.92,546.42 L324.41,546.39 L324.91,546.36 L325.4,546.33 L325.89,546.3 L326.39,546.27 L326.88,546.23 L327.37,546.2 L327.87,546.16 L328.36,546.13 L328.85,546.09 L329.35,546.05 L329.84,546.02 L330.33,545.98 L330.83,545.94 L331.32,545.91 L331.81,545.87 L332.31,545.84 L332.8,545.8 L333.29,545.76 L333.78,545.73 L334.27,545.69 L334.76,545.65 L335.25,545.62 L335.74,545.58 L336.23,545.53 L336.72,545.49 L337.21,545.45 L337.7,545.41 L338.19,545.36 L338.68,545.32 L339.17,545.27 L339.66,545.22 L340.15,545.17 L340.64,545.12 L341.13,545.07 L341.62,545.02 L342.11,544.96 L342.6,544.91 L343.09,544.85 L343.58,544.8 L344.07,544.74 L344.56,544.68 L345.05,544.62 L345.54,544.56 L346.03,544.5 L346.52,544.43 L347.01,544.37 L347.5,544.3 L347.99,544.23 L348.48,544.16 L348.97,544.08 L349.46,544 L349.95,543.92 L350.44,543.83 L350.93,543.74 L351.42,543.65 L351.91,543.56 L352.39,543.46 L352.88,543.36 L353.37,543.26 L353.86,543.15 L354.35,543.05 L354.84,542.94 L355.33,542.83 L355.82,542.72 L356.31,542.61 L356.8,542.5 L395,505.2 L395,537.7 L356.8,542.5 L356.31,543.04 L355.82,543.58 L355.33,544.11 L354.84,544.64 L354.35,545.17 L353.86,545.69 L353.37,546.21 L352.88,546.72 L352.39,547.23 L351.91,547.73 L351.42,548.23 L350.93,548.72 L350.44,549.21 L349.95,549.69 L349.46,550.17 L348.97,550.64 L348.48,551.1 L347.99,551.55 L347.5,552 L347.01,552.44 L346.52,552.89 L346.03,553.33 L345.54,553.77 L345.05,554.21 L344.56,554.65 L344.07,555.08 L343.58,555.52 L343.09,555.95 L342.6,556.37 L342.11,556.8 L341.62,557.22 L341.13,557.63 L340.64,558.05 L340.15,558.45 L339.66,558.86 L339.17,559.25 L338.68,559.64 L338.19,560.03 L337.7,560.41 L337.21,560.78 L336.72,561.15 L336.23,561.51 L335.74,561.86 L335.25,562.2 L334.76,562.54 L334.27,562.87 L333.78,563.19 L333.29,563.5 L332.8,563.8 L332.31,564.1 L331.81,564.4 L331.32,564.69 L330.83,564.99 L330.33,565.28 L329.84,565.57 L329.35,565.85 L328.85,566.14 L328.36,566.42 L327.87,566.69 L327.37,566.97 L326.88,567.24 L326.39,567.5 L325.89,567.76 L325.4,568.01 L324.91,568.26 L324.41,568.51 L323.92,568.74 L323.43,568.97 L322.93,569.2 L322.44,569.41 L321.95,569.62 L321.45,569.82 L320.96,570.02 L320.47,570.2 L319.97,570.38 L319.48,570.55 L318.99,570.71 L318.49,570.86 L318,571 L317.52,571.13 L317.04,571.26 L316.56,571.39 L316.08,571.52 L315.6,571.65 L315.11,571.77 L314.63,571.89 L314.15,572.01 L313.67,572.13 L313.19,572.23 L312.71,572.34 L312.23,572.44 L311.75,572.53 L311.27,572.62 L310.79,572.7 L310.3,572.77 L309.82,572.83 L309.34,572.89 L308.86,572.93 L308.38,572.97 L307.9,573 L307.4,573.02 L306.9,573.05 L306.4,573.07 L305.9,573.09 L305.4,573.11 L304.9,573.13 L304.4,573.15 L303.9,573.16 L303.4,573.18 L302.9,573.2 L302.4,573.21 L301.9,573.22 L301.4,573.24 L300.9,573.25 L300.4,573.26 L299.9,573.27 L299.4,573.28 L298.9,573.28 L298.4,573.29 L297.9,573.29 L297.4,573.3 L296.9,573.3 L296.4,573.3 L295.9,573.3 L295.4,573.3 L294.9,573.29 L294.4,573.29 L293.9,573.28 L293.4,573.27 L292.9,573.26 L292.4,573.25 L291.9,573.23 L291.4,573.22 L290.9,573.2 L290.4,573.19 L289.9,573.17 L289.4,573.16 L288.9,573.14 L288.4,573.12 L287.9,573.1 L287.4,573.09 L286.9,573.07 L286.4,573.05 L285.9,573.03 L285.4,573.02 L284.9,573 L284.4,572.98 L283.91,572.97 L283.41,572.95 L282.92,572.93 L282.42,572.91 L281.93,572.89 L281.43,572.87 L280.93,572.85 L280.44,572.83 L279.94,572.81 L279.45,572.79 L278.95,572.76 L278.46,572.74 L277.96,572.72 L277.47,572.7 L276.97,572.67 L276.47,572.65 L275.98,572.62 L275.48,572.6 L274.99,572.57 L274.49,572.55 L274,572.53 L273.5,572.5 L273.03,572.48 L272.55,572.45 L272.08,572.42 L271.61,572.4 L271.14,572.37 L270.66,572.34 L270.19,572.32 L269.72,572.29 L269.25,572.26 L268.77,572.23 L268.3,572.2 Z" fill="#c2c2c2" stroke="none"/>
<path d="M268.3,556.1 L268.77,556.18 L269.25,556.25 L269.72,556.33 L270.19,556.4 L270.66,556.47 L271.14,556.55 L271.61,556.62 L272.08,556.69 L272.55,556.76 L273.03,556.83 L273.5,556.9 L274,556.97 L274.49,557.04 L274.99,557.11 L275.48,557.18 L275.98,557.25 L276.47,557.32 L276.97,557.39 L277.47,557.46 L277.96,557.52 L278.46,557.59 L278.95,557.66 L279.45,557.72 L279.94,557.79 L280.44,557.85 L280.93,557.91 L281.43,557.98 L281.93,558.04 L282.42,558.1 L282.92,558.16 L283.41,558.22 L283.91,558.28 L284.4,558.34 L284.9,558.4 L285.4,558.46 L285.9,558.52 L286.4,558.57 L286.9,558.63 L287.4,558.68 L287.9,558.74 L288.4,558.79 L288.9,558.85 L289.4,558.9 L289.9,558.95 L290.4,559.01 L290.9,559.06 L291.4,559.11 L291.9,559.16 L292.4,559.21 L292.9,559.26 L293.4,559.31 L293.9,559.36 L294.4,559.41 L294.9,559.46 L295.4,559.51 L295.9,559.55 L296.4,559.6 L296.88,559.65 L297.37,559.7 L297.85,559.75 L298.33,559.81 L298.82,559.86 L299.3,559.92 L299.78,559.97 L300.27,560.01 L300.75,560.05 L301.23,560.08 L301.72,560.09 L302.2,560.1 L302.68,560.1 L303.15,560.1 L303.62,560.1 L304.1,560.1 L304.57,560.1 L305.05,560.1 L305.52,560.1 L306,560.1 L306.47,560.1 L306.95,560.1 L307.42,560.1 L307.9,560.1 L308.38,560.09 L308.86,560.08 L309.34,560.05 L309.82,560.01 L310.3,559.97 L310.79,559.91 L311.27,559.85 L311.75,559.78 L312.23,559.7 L312.71,559.62 L313.19,559.54 L313.67,559.45 L314.15,559.36 L314.63,559.26 L315.11,559.17 L315.6,559.07 L316.08,558.97 L316.56,558.88 L317.04,558.78 L317.52,558.69 L318,558.6 L318.49,558.51 L318.99,558.42 L319.48,558.32 L319.97,558.22 L320.47,558.13 L320.96,558.03 L321.45,557.92 L321.95,557.82 L322.44,557.71 L322.93,557.6 L323.43,557.49 L323.92,557.38 L324.41,557.26 L324.91,557.15 L325.4,557.03 L325.89,556.9 L326.39,556.78 L326.88,556.65 L327.37,556.52 L327.87,556.39 L328.36,556.25 L328.85,556.11 L329.35,555.97 L329.84,555.83 L330.33,555.68 L330.83,555.53 L331.32,555.38 L331.81,555.22 L332.31,555.06 L332.8,554.9 L333.29,554.73 L333.78,554.55 L334.27,554.37 L334.76,554.17 L335.25,553.97 L335.74,553.76 L336.23,553.54 L336.72,553.32 L337.21,553.09 L337.7,552.85 L338.19,552.61 L338.68,552.36 L339.17,552.11 L339.66,551.86 L340.15,551.6 L340.64,551.34 L341.13,551.07 L341.62,550.81 L342.11,550.54 L342.6,550.27 L343.09,550 L343.58,549.73 L344.07,549.46 L344.56,549.19 L345.05,548.92 L345.54,548.65 L346.03,548.38 L346.52,548.12 L347.01,547.86 L347.5,547.6 L347.99,547.34 L348.48,547.08 L348.97,546.82 L349.46,546.56 L349.95,546.3 L350.44,546.04 L350.93,545.77 L351.42,545.5 L351.91,545.24 L352.39,544.97 L352.88,544.7 L353.37,544.43 L353.86,544.15 L354.35,543.88 L354.84,543.61 L355.33,543.33 L355.82,543.05 L356.31,542.78 L356.8,542.5 L395,521.3" fill="none" stroke="#3a3a3a" stroke-width="1" stroke-linejoin="round"/>
<path d="M264.5,542.5H449" stroke="#555" stroke-width="1" stroke-dasharray="3.9,1.15" fill="none"/>
<path d="M357,459.1V587.5" stroke="#555" stroke-width="1" stroke-dasharray="3.9,1.0" fill="none"/>
<path d="M264.5,459.1V588" fill="none" stroke="#444" stroke-width="1"/>
<path d="M264,587.5H448.7" fill="none" stroke="#333" stroke-width="1"/>
<path d="M261.4,463H264M261.4,475.3H264M261.4,489.3H264M261.4,504.4H264M261.4,521.9H264M261.4,542.5H264M261.4,568.6H264" stroke="#666" stroke-width="1" fill="none"/>
<path d="M267.8,587.5V589.5M290,587.5V589.5M312.2,587.5V589.5M334.4,587.5V589.5M356.6,587.5V589.5M378.8,587.5V589.5M401,587.5V589.5M423.2,587.5V589.5M445.4,587.5V589.5" stroke="#555" stroke-width="0.9" fill="none"/>
<text x="346.9" y="452.7" font-size="15.5" text-anchor="middle" fill="#000">PS 1</text>
<text x="262.2" y="466.1" font-size="8.6" text-anchor="end" fill="#222">2</text>
<text x="262.2" y="478.4" font-size="8.6" text-anchor="end" fill="#222">1.8</text>
<text x="262.2" y="492.4" font-size="8.6" text-anchor="end" fill="#222">1.6</text>
<text x="262.2" y="507.5" font-size="8.6" text-anchor="end" fill="#222">1.4</text>
<text x="262.2" y="525" font-size="8.6" text-anchor="end" fill="#222">1.2</text>
<text x="262.2" y="546.1" font-size="8.6" text-anchor="end" fill="#222">1</text>
<text x="262.2" y="571.7" font-size="8.6" text-anchor="end" fill="#222">.8</text>
<text x="268.1" y="597.2" font-size="8.8" text-anchor="middle" fill="#222">&#8722;2</text>
<text x="290.3" y="597.2" font-size="8.8" text-anchor="middle" fill="#222">&#8722;1.5</text>
<text x="312.5" y="597.2" font-size="8.8" text-anchor="middle" fill="#222">&#8722;1</text>
<text x="334.7" y="597.2" font-size="8.8" text-anchor="middle" fill="#222">&#8722;.5</text>
<text x="356.9" y="597.2" font-size="8.8" text-anchor="middle" fill="#222">0</text>
<text x="379.1" y="597.2" font-size="8.8" text-anchor="middle" fill="#222">.5</text>
<text x="401.3" y="597.2" font-size="8.8" text-anchor="middle" fill="#222">1</text>
<text x="423.5" y="597.2" font-size="8.8" text-anchor="middle" fill="#222">1.5</text>
<text x="445.7" y="597.2" font-size="8.8" text-anchor="middle" fill="#222">2</text>
<text x="359.7" y="607.7" font-size="11.3" text-anchor="middle" fill="#222">Change of calcium</text>
<text transform="translate(243.5,519.6) rotate(-90)" font-size="11.7" text-anchor="middle" fill="#222">Hazard Ratios</text>
<path d="M500,463H683.6M500,475.3H683.6M500,489.3H683.6M500,504.4H683.6M500,521.9H683.6M500,568.6H683.6" stroke="#eef3f4" stroke-width="1" fill="none"/>
<path d="M503.2,545.8 L503.69,545.79 L504.18,545.79 L504.68,545.78 L505.17,545.77 L505.66,545.76 L506.15,545.75 L506.64,545.75 L507.13,545.74 L507.62,545.73 L508.12,545.72 L508.61,545.72 L509.1,545.71 L509.59,545.7 L510.08,545.69 L510.57,545.68 L511.07,545.67 L511.56,545.67 L512.05,545.66 L512.54,545.65 L513.03,545.64 L513.52,545.63 L514.02,545.62 L514.51,545.62 L515,545.61 L515.49,545.6 L515.98,545.59 L516.48,545.58 L516.97,545.57 L517.46,545.56 L517.95,545.55 L518.44,545.55 L518.93,545.54 L519.42,545.53 L519.92,545.52 L520.41,545.51 L520.9,545.5 L521.39,545.49 L521.88,545.48 L522.37,545.47 L522.86,545.46 L523.35,545.46 L523.84,545.45 L524.33,545.44 L524.82,545.43 L525.31,545.42 L525.8,545.41 L526.29,545.4 L526.78,545.39 L527.27,545.39 L527.76,545.38 L528.25,545.37 L528.74,545.36 L529.23,545.35 L529.72,545.34 L530.21,545.33 L530.69,545.32 L531.18,545.31 L531.67,545.3 L532.16,545.29 L532.65,545.28 L533.14,545.27 L533.63,545.26 L534.12,545.25 L534.61,545.24 L535.1,545.23 L535.59,545.22 L536.08,545.21 L536.57,545.19 L537.06,545.18 L537.55,545.17 L538.04,545.16 L538.53,545.14 L539.02,545.13 L539.51,545.11 L540,545.1 L540.49,545.08 L540.98,545.07 L541.46,545.05 L541.95,545.03 L542.44,545.01 L542.93,544.99 L543.42,544.97 L543.9,544.95 L544.39,544.93 L544.88,544.9 L545.37,544.88 L545.85,544.86 L546.34,544.83 L546.83,544.81 L547.32,544.78 L547.81,544.75 L548.29,544.73 L548.78,544.7 L549.27,544.67 L549.76,544.65 L550.25,544.62 L550.73,544.59 L551.22,544.56 L551.71,544.54 L552.2,544.51 L552.68,544.48 L553.17,544.45 L553.66,544.43 L554.15,544.4 L554.64,544.38 L555.12,544.35 L555.61,544.32 L556.1,544.3 L556.6,544.28 L557.1,544.25 L557.6,544.22 L558.1,544.2 L558.6,544.17 L559.1,544.15 L559.6,544.12 L560.1,544.1 L560.6,544.07 L561.1,544.05 L561.6,544.02 L562.1,543.99 L562.6,543.97 L563.1,543.94 L563.6,543.92 L564.1,543.89 L564.6,543.87 L565.1,543.84 L565.6,543.81 L566.1,543.79 L566.6,543.76 L567.1,543.74 L567.6,543.71 L568.1,543.69 L568.6,543.67 L569.1,543.64 L569.6,543.62 L570.1,543.59 L570.6,543.57 L571.1,543.55 L571.6,543.52 L572.1,543.5 L572.6,543.48 L573.09,543.46 L573.59,543.43 L574.09,543.41 L574.59,543.39 L575.08,543.37 L575.58,543.34 L576.08,543.32 L576.58,543.3 L577.07,543.28 L577.57,543.26 L578.07,543.24 L578.57,543.21 L579.06,543.19 L579.56,543.17 L580.06,543.15 L580.56,543.13 L581.05,543.11 L581.55,543.09 L582.05,543.07 L582.55,543.05 L583.04,543.03 L583.54,543.01 L584.04,542.99 L584.54,542.97 L585.03,542.95 L585.53,542.93 L586.03,542.91 L586.53,542.89 L587.02,542.87 L587.52,542.85 L588.02,542.83 L588.52,542.81 L589.01,542.79 L589.51,542.77 L590.01,542.75 L590.51,542.74 L591,542.72 L591.5,542.7 L629.9,514.3 L629.9,543.6 L591.5,542.7 L591.03,543.12 L590.56,543.54 L590.09,543.96 L589.61,544.38 L589.14,544.79 L588.67,545.2 L588.2,545.6 L587.7,546.03 L587.2,546.45 L586.7,546.88 L586.2,547.3 L585.7,547.73 L585.2,548.15 L584.7,548.57 L584.2,548.98 L583.7,549.39 L583.2,549.8 L582.7,550.2 L582.2,550.6 L581.7,550.98 L581.2,551.36 L580.7,551.74 L580.2,552.1 L579.72,552.44 L579.25,552.78 L578.77,553.11 L578.29,553.45 L577.82,553.77 L577.34,554.1 L576.86,554.42 L576.39,554.74 L575.91,555.05 L575.44,555.35 L574.96,555.65 L574.48,555.94 L574.01,556.23 L573.53,556.51 L573.05,556.78 L572.58,557.04 L572.1,557.3 L571.6,557.56 L571.1,557.82 L570.6,558.07 L570.1,558.32 L569.6,558.56 L569.1,558.79 L568.6,559.02 L568.1,559.25 L567.6,559.47 L567.1,559.69 L566.6,559.9 L566.1,560.11 L565.6,560.31 L565.1,560.51 L564.6,560.71 L564.1,560.9 L563.6,561.09 L563.1,561.27 L562.6,561.45 L562.1,561.63 L561.6,561.81 L561.1,561.98 L560.6,562.15 L560.1,562.31 L559.6,562.48 L559.1,562.63 L558.6,562.79 L558.1,562.94 L557.6,563.08 L557.1,563.23 L556.6,563.37 L556.1,563.5 L555.62,563.62 L555.15,563.75 L554.67,563.87 L554.19,563.98 L553.72,564.1 L553.24,564.21 L552.76,564.32 L552.29,564.43 L551.81,564.54 L551.34,564.64 L550.86,564.74 L550.38,564.84 L549.91,564.94 L549.43,565.03 L548.95,565.12 L548.48,565.21 L548,565.3 L547.5,565.39 L547,565.47 L546.5,565.55 L546,565.63 L545.5,565.7 L545,565.78 L544.5,565.85 L544,565.92 L543.5,565.99 L543,566.06 L542.5,566.13 L542,566.2 L541.5,566.27 L541,566.34 L540.5,566.42 L540,566.5 L539.51,566.58 L539.02,566.66 L538.53,566.74 L538.04,566.82 L537.55,566.91 L537.06,566.99 L536.57,567.07 L536.08,567.16 L535.59,567.25 L535.1,567.33 L534.61,567.42 L534.12,567.51 L533.63,567.6 L533.14,567.68 L532.65,567.77 L532.16,567.86 L531.67,567.95 L531.18,568.04 L530.69,568.13 L530.21,568.22 L529.72,568.31 L529.23,568.4 L528.74,568.49 L528.25,568.58 L527.76,568.67 L527.27,568.76 L526.78,568.85 L526.29,568.94 L525.8,569.03 L525.31,569.12 L524.82,569.21 L524.33,569.3 L523.84,569.39 L523.35,569.47 L522.86,569.56 L522.37,569.65 L521.88,569.73 L521.39,569.82 L520.9,569.9 L520.41,569.98 L519.92,570.07 L519.42,570.15 L518.93,570.23 L518.44,570.32 L517.95,570.4 L517.46,570.48 L516.97,570.57 L516.48,570.65 L515.98,570.73 L515.49,570.81 L515,570.89 L514.51,570.97 L514.02,571.06 L513.52,571.14 L513.03,571.22 L512.54,571.3 L512.05,571.38 L511.56,571.46 L511.07,571.54 L510.57,571.62 L510.08,571.7 L509.59,571.78 L509.1,571.86 L508.61,571.94 L508.12,572.02 L507.62,572.1 L507.13,572.18 L506.64,572.25 L506.15,572.33 L505.66,572.41 L505.17,572.49 L504.68,572.57 L504.18,572.65 L503.69,572.72 L503.2,572.8 Z" fill="#c2c2c2" stroke="none"/>
<path d="M503.2,559.3 L503.69,559.26 L504.18,559.23 L504.68,559.19 L505.17,559.16 L505.66,559.12 L506.15,559.08 L506.64,559.05 L507.13,559.01 L507.62,558.97 L508.12,558.94 L508.61,558.9 L509.1,558.86 L509.59,558.82 L510.08,558.79 L510.57,558.75 L511.07,558.71 L511.56,558.67 L512.05,558.63 L512.54,558.59 L513.03,558.55 L513.52,558.51 L514.02,558.47 L514.51,558.43 L515,558.39 L515.49,558.35 L515.98,558.31 L516.48,558.27 L516.97,558.23 L517.46,558.19 L517.95,558.15 L518.44,558.11 L518.93,558.07 L519.42,558.03 L519.92,557.98 L520.41,557.94 L520.9,557.9 L521.39,557.86 L521.88,557.82 L522.37,557.78 L522.86,557.74 L523.35,557.69 L523.84,557.65 L524.33,557.61 L524.82,557.58 L525.31,557.54 L525.8,557.5 L526.29,557.46 L526.78,557.42 L527.27,557.38 L527.76,557.34 L528.25,557.3 L528.74,557.25 L529.23,557.21 L529.72,557.17 L530.21,557.13 L530.69,557.09 L531.18,557.04 L531.67,557 L532.16,556.96 L532.65,556.91 L533.14,556.86 L533.63,556.82 L534.12,556.77 L534.61,556.72 L535.1,556.67 L535.59,556.62 L536.08,556.57 L536.57,556.51 L537.06,556.46 L537.55,556.4 L538.04,556.34 L538.53,556.29 L539.02,556.23 L539.51,556.16 L540,556.1 L540.5,556.03 L541,555.96 L541.5,555.88 L542,555.79 L542.5,555.7 L543,555.61 L543.5,555.51 L544,555.42 L544.5,555.32 L545,555.21 L545.5,555.11 L546,555.01 L546.5,554.9 L547,554.8 L547.5,554.7 L548,554.6 L548.48,554.51 L548.95,554.41 L549.43,554.32 L549.91,554.22 L550.38,554.12 L550.86,554.03 L551.34,553.93 L551.81,553.83 L552.29,553.73 L552.76,553.63 L553.24,553.53 L553.72,553.43 L554.19,553.32 L554.67,553.22 L555.15,553.11 L555.62,553.01 L556.1,552.9 L556.6,552.79 L557.1,552.67 L557.6,552.55 L558.1,552.43 L558.6,552.31 L559.1,552.19 L559.6,552.06 L560.1,551.94 L560.6,551.81 L561.1,551.69 L561.6,551.56 L562.1,551.43 L562.6,551.3 L563.1,551.17 L563.6,551.03 L564.1,550.9 L564.6,550.77 L565.1,550.63 L565.6,550.49 L566.1,550.35 L566.6,550.21 L567.1,550.07 L567.6,549.93 L568.1,549.79 L568.6,549.64 L569.1,549.5 L569.6,549.35 L570.1,549.2 L570.6,549.05 L571.1,548.9 L571.6,548.75 L572.1,548.6 L572.58,548.45 L573.05,548.3 L573.53,548.15 L574.01,548 L574.48,547.84 L574.96,547.69 L575.44,547.53 L575.91,547.37 L576.39,547.21 L576.86,547.06 L577.34,546.9 L577.82,546.74 L578.29,546.59 L578.77,546.44 L579.25,546.29 L579.72,546.14 L580.2,546 L580.7,545.85 L581.2,545.71 L581.7,545.57 L582.2,545.44 L582.7,545.3 L583.2,545.17 L583.7,545.04 L584.2,544.91 L584.7,544.78 L585.2,544.65 L585.7,544.51 L586.2,544.38 L586.7,544.24 L587.2,544.1 L587.7,543.95 L588.2,543.8 L588.67,543.65 L589.14,543.5 L589.61,543.35 L590.09,543.19 L590.56,543.03 L591.03,542.86 L591.5,542.7 L629.9,529.2" fill="none" stroke="#3a3a3a" stroke-width="1" stroke-linejoin="round"/>
<path d="M499.5,542.5H684" stroke="#555" stroke-width="1" stroke-dasharray="3.9,1.15" fill="none"/>
<path d="M591.5,459.1V587.5" stroke="#555" stroke-width="1" stroke-dasharray="3.9,1.0" fill="none"/>
<path d="M499.5,459.1V588" fill="none" stroke="#444" stroke-width="1"/>
<path d="M499,587.5H683.7" fill="none" stroke="#333" stroke-width="1"/>
<path d="M496.4,463H499M496.4,475.3H499M496.4,489.3H499M496.4,504.4H499M496.4,521.9H499M496.4,542.5H499M496.4,568.6H499" stroke="#666" stroke-width="1" fill="none"/>
<path d="M503.5,587.5V589.5M525.7,587.5V589.5M547.9,587.5V589.5M570.1,587.5V589.5M592.3,587.5V589.5M614.5,587.5V589.5M636.7,587.5V589.5M658.9,587.5V589.5M681.1,587.5V589.5" stroke="#555" stroke-width="0.9" fill="none"/>
<text x="580" y="452.7" font-size="15.5" text-anchor="middle" fill="#000">PS 2-4</text>
<text x="497.2" y="466.1" font-size="8.6" text-anchor="end" fill="#222">2</text>
<text x="497.2" y="478.4" font-size="8.6" text-anchor="end" fill="#222">1.8</text>
<text x="497.2" y="492.4" font-size="8.6" text-anchor="end" fill="#222">1.6</text>
<text x="497.2" y="507.5" font-size="8.6" text-anchor="end" fill="#222">1.4</text>
<text x="497.2" y="525" font-size="8.6" text-anchor="end" fill="#222">1.2</text>
<text x="497.2" y="546.1" font-size="8.6" text-anchor="end" fill="#222">1</text>
<text x="497.2" y="571.7" font-size="8.6" text-anchor="end" fill="#222">.8</text>
<text x="503.8" y="597.2" font-size="8.8" text-anchor="middle" fill="#222">&#8722;2</text>
<text x="526" y="597.2" font-size="8.8" text-anchor="middle" fill="#222">&#8722;1.5</text>
<text x="548.2" y="597.2" font-size="8.8" text-anchor="middle" fill="#222">&#8722;1</text>
<text x="570.4" y="597.2" font-size="8.8" text-anchor="middle" fill="#222">&#8722;.5</text>
<text x="592.6" y="597.2" font-size="8.8" text-anchor="middle" fill="#222">0</text>
<text x="614.8" y="597.2" font-size="8.8" text-anchor="middle" fill="#222">.5</text>
<text x="637" y="597.2" font-size="8.8" text-anchor="middle" fill="#222">1</text>
<text x="659.2" y="597.2" font-size="8.8" text-anchor="middle" fill="#222">1.5</text>
<text x="681.4" y="597.2" font-size="8.8" text-anchor="middle" fill="#222">2</text>
<text x="595.4" y="607.7" font-size="11.3" text-anchor="middle" fill="#222">Change of calcium</text>
<text transform="translate(478.2,519.6) rotate(-90)" font-size="11.7" text-anchor="middle" fill="#222">Hazard Ratios</text>
</svg></body></html>
